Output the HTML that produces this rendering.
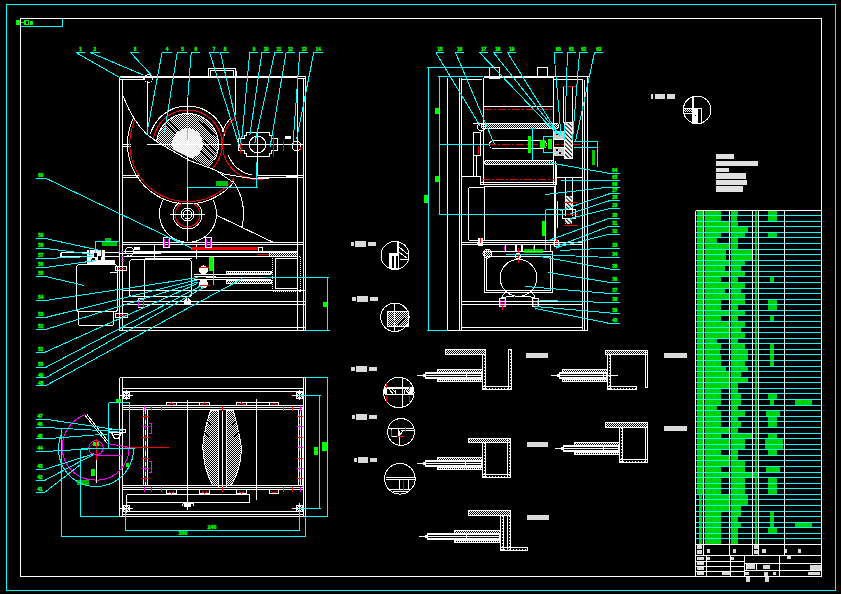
<!DOCTYPE html>
<html><head><meta charset="utf-8"><style>
html,body{margin:0;padding:0;background:#000;width:841px;height:594px;overflow:hidden}
svg{display:block}
text{font-family:"Liberation Sans",sans-serif}
</style></head><body>
<svg width="841" height="594" viewBox="0 0 841 594" shape-rendering="crispEdges">
<rect x="0" y="0" width="841" height="594" fill="#000"/>
<defs>
<pattern id="hat" width="3" height="3" patternUnits="userSpaceOnUse" patternTransform="rotate(-45)"><rect x="0" y="0" width="1.6" height="3" fill="#fff"/></pattern>
<pattern id="dots" width="2" height="2" patternUnits="userSpaceOnUse"><rect x="0" y="0" width="1" height="1" fill="#fff"/><rect x="1" y="1" width="1" height="1" fill="#fff"/></pattern>
<pattern id="chk" width="2" height="2" patternUnits="userSpaceOnUse"><rect x="0" y="0" width="1" height="1" fill="#fff"/><rect x="1" y="1" width="1" height="1" fill="#fff"/></pattern>
</defs>
<rect x="6.5" y="4.5" width="829" height="586" stroke="#00ffff" stroke-width="1" fill="none"/>
<rect x="20.5" y="18.5" width="801" height="558" stroke="#ffffff" stroke-width="1" fill="none"/>
<line x1="62.5" y1="18.5" x2="62.5" y2="26.5" stroke="#00ffff" stroke-width="1"/>
<line x1="20.5" y1="26.5" x2="62.5" y2="26.5" stroke="#00ffff" stroke-width="1"/>
<rect x="16" y="20" width="4" height="5" fill="#00ff00"/>
<rect x="21" y="22" width="3" height="1" fill="#00ff00"/>
<rect x="24" y="20" width="5" height="5" fill="#00ff00"/>
<rect x="30" y="21" width="3" height="4" fill="#00ff00"/>
<rect x="26" y="21" width="2" height="3" fill="#000"/>
<line x1="119.5" y1="76.5" x2="305.5" y2="76.5" stroke="#ffffff" stroke-width="1"/>
<line x1="119.5" y1="77.5" x2="297.5" y2="77.5" stroke="#ffffff" stroke-width="1"/>
<line x1="119.5" y1="79.5" x2="143.5" y2="79.5" stroke="#ffffff" stroke-width="1"/>
<line x1="143.5" y1="76.5" x2="143.5" y2="79.5" stroke="#ffffff" stroke-width="1"/>
<line x1="119.5" y1="76.5" x2="119.5" y2="330.5" stroke="#ffffff" stroke-width="1"/>
<line x1="122.5" y1="79.5" x2="122.5" y2="330.5" stroke="#ffffff" stroke-width="1"/>
<line x1="147.5" y1="80.5" x2="147.5" y2="133.5" stroke="#ffffff" stroke-width="1"/>
<line x1="297.5" y1="76.5" x2="297.5" y2="330.5" stroke="#ffffff" stroke-width="1"/>
<line x1="303.5" y1="78.5" x2="303.5" y2="330.5" stroke="#ffffff" stroke-width="1"/>
<line x1="305.5" y1="76.5" x2="305.5" y2="330.5" stroke="#ffffff" stroke-width="1"/>
<line x1="297.5" y1="78.5" x2="305.5" y2="78.5" stroke="#ffffff" stroke-width="1"/>
<line x1="119.5" y1="327.5" x2="305.5" y2="327.5" stroke="#ffffff" stroke-width="1"/>
<line x1="119.5" y1="330.5" x2="305.5" y2="330.5" stroke="#ffffff" stroke-width="1"/>
<rect x="208.5" y="68.5" width="27" height="8" stroke="#ffffff" stroke-width="1" fill="none"/>
<rect x="210.5" y="70.5" width="23" height="6" stroke="#ffffff" stroke-width="1" fill="none"/>
<line x1="236.5" y1="70.5" x2="236.5" y2="76.5" stroke="#ffffff" stroke-width="1"/>
<line x1="235.5" y1="76.5" x2="235.5" y2="114.5" stroke="#ffffff" stroke-width="1"/>
<circle cx="148.5" cy="78.5" r="4" stroke="#ffffff" stroke-width="1" fill="none"/>
<line x1="122.5" y1="144.5" x2="130.5" y2="144.5" stroke="#ffffff" stroke-width="1"/>
<line x1="122.5" y1="146.5" x2="130.5" y2="146.5" stroke="#ffffff" stroke-width="1"/>
<line x1="122.5" y1="175.5" x2="138.5" y2="175.5" stroke="#ffffff" stroke-width="1"/>
<line x1="122.5" y1="177.5" x2="138.5" y2="177.5" stroke="#ffffff" stroke-width="1"/>
<clipPath id="cpd"><polygon points="140,80 240,80 240,182.72 212,168.5 156.6,141.5 140,133.4"/></clipPath>
<circle cx="187.5" cy="144.5" r="31" fill="url(#chk)" clip-path="url(#cpd)"/>
<g clip-path="url(#cpd)" stroke="#000" stroke-width="1"><clipPath id="cpd2"><circle cx="187.5" cy="144.5" r="30"/></clipPath><g clip-path="url(#cpd2)"><line x1="160" y1="125" x2="174" y2="139"/><line x1="163" y1="121" x2="177" y2="135"/><line x1="166" y1="118" x2="180" y2="132"/><line x1="170" y1="115" x2="184" y2="129"/><line x1="174" y1="113" x2="188" y2="127"/><line x1="200" y1="142" x2="214" y2="156"/><line x1="204" y1="140" x2="218" y2="154"/><line x1="208" y1="139" x2="222" y2="153"/><line x1="196" y1="146" x2="210" y2="160"/><line x1="199" y1="121" x2="213" y2="135"/><line x1="203" y1="123" x2="217" y2="137"/></g></g>
<circle cx="187.5" cy="143.5" r="15.2" fill="#fff" clip-path="url(#cpd)" opacity="0.9"/>
<polyline points="156.62,141.8 156.8,140.18 157.07,138.57 157.43,136.98 157.86,135.41 158.38,133.86 158.98,132.34 159.66,130.86 160.42,129.42 161.25,128.01 162.15,126.65 163.13,125.35 164.17,124.09 165.27,122.89 166.44,121.75 167.67,120.68 168.95,119.67 170.28,118.72 171.66,117.85 173.08,117.06 174.54,116.34 176.04,115.7 177.57,115.13 179.13,114.65 180.71,114.25 182.31,113.94 183.93,113.71 185.55,113.56 187.18,113.5 188.81,113.53 190.44,113.64 192.06,113.84 193.66,114.12 195.25,114.49 196.82,114.93 198.36,115.47 199.88,116.08 201.35,116.77 202.79,117.53 204.19,118.38 205.54,119.29 206.84,120.27 208.09,121.32 209.28,122.44 210.41,123.62 211.48,124.85 212.48,126.14 213.41,127.48 214.27,128.86 215.05,130.29 215.76,131.76 216.39,133.26 216.94,134.8 217.41,136.36 217.8,137.95 218.1,139.55 218.32,141.16 218.45,142.79 218.5,144.42 218.46,146.05 218.34,147.68 218.13,149.29 217.83,150.9 217.45,152.48 216.99,154.05 216.45,155.59 215.83,157.09 215.12,158.57 214.35,160.0" stroke="#ffffff" stroke-width="1" fill="none"/>
<polyline points="153.26,140.3 153.53,138.49 153.89,136.71 154.35,134.94 154.9,133.2 155.54,131.5 156.27,129.83 157.09,128.2 158.0,126.62 158.98,125.08 160.05,123.6 161.19,122.18 162.41,120.82 163.69,119.53 165.04,118.31 166.46,117.16 167.93,116.09 169.46,115.09 171.04,114.18 172.66,113.35 174.33,112.61 176.03,111.96 177.77,111.4 179.53,110.93 181.31,110.56 183.11,110.28 184.93,110.1 186.75,110.01 188.57,110.02 190.39,110.12 192.2,110.32 194.0,110.62 195.78,111.01 197.54,111.49 199.27,112.07 200.96,112.74 202.62,113.49 204.24,114.33 205.81,115.26 207.33,116.27 208.79,117.35 210.2,118.52 211.54,119.75 212.81,121.06 214.01,122.43 215.14,123.86 216.19,125.35 217.17,126.89 218.06,128.48 218.86,130.12 219.57,131.79 220.2,133.51 220.74,135.25 221.18,137.02 221.53,138.81 221.78,140.61 221.94,142.43 222.0,144.25 221.96,146.07 221.83,147.89 221.61,149.7 221.28,151.49 220.87,153.27 220.36,155.02 219.76,156.74 219.06,158.43 218.29,160.07 217.42,161.68 216.47,163.23 215.44,164.74 214.33,166.19 213.15,167.57 211.9,168.9" stroke="#ff0000" stroke-width="1" fill="none"/>
<polyline points="150.49,133.89 151.11,131.94 151.82,130.03 152.64,128.16 153.56,126.33 154.57,124.56 155.67,122.84 156.87,121.18 158.15,119.59 159.51,118.07 160.95,116.62 162.47,115.25 164.05,113.96 165.7,112.76 167.42,111.65 169.19,110.63 171.01,109.71 172.88,108.88 174.79,108.16 176.73,107.54 178.71,107.02 180.71,106.6 182.73,106.3 184.76,106.1 186.8,106.01 188.84,106.02 190.88,106.15 192.91,106.38 194.93,106.72 196.92,107.17 198.88,107.72 200.82,108.38 202.72,109.13 204.57,109.99 206.38,110.95 208.13,111.99 209.82,113.13 211.46,114.36 213.02,115.67 214.51,117.07 215.93,118.54 217.27,120.08 218.52,121.7 219.69,123.37 220.76,125.11 221.74,126.9 222.63,128.74 223.41,130.63 224.1,132.55 224.68,134.51 225.16,136.5" stroke="#ffffff" stroke-width="1" fill="none"/>
<line x1="146.5" y1="144.5" x2="230.5" y2="144.5" stroke="#ffffff" stroke-width="1"/>
<line x1="187.5" y1="96.5" x2="187.5" y2="240.5" stroke="#ffffff" stroke-width="1"/>
<polyline points="135.21,119.61 133.99,122.4 132.93,125.25 132.02,128.15 131.26,131.09 130.66,134.07 130.22,137.08 129.93,140.1 129.81,143.14 129.84,146.18 130.04,149.21 130.39,152.23 130.9,155.22 131.57,158.19 132.4,161.11 133.37,163.99 134.5,166.81 135.77,169.57 137.19,172.26 138.75,174.87 140.44,177.39 142.27,179.82 144.21,182.15 146.28,184.38 148.47,186.49 150.76,188.49 153.15,190.36 155.64,192.11 158.22,193.72 160.87,195.19 163.6,196.52 166.4,197.7 169.26,198.74 172.17,199.63 175.12,200.36 178.1,200.93 181.11,201.35 184.14,201.6 187.18,201.7 190.21,201.64 193.25,201.41 196.26,201.03 199.25,200.49 202.21,199.79 205.12,198.94 207.99,197.94 210.8,196.78 213.55,195.48 216.23,194.04 218.82,192.46 221.33,190.74 223.74,188.9 226.06,186.93 228.26,184.84 230.36,182.64 232.33,180.33 234.18,177.92" stroke="#ff0000" stroke-width="1" fill="none"/>
<polyline points="133.57,117.7 132.26,120.57 131.11,123.51 130.11,126.51 129.26,129.56 128.58,132.64 128.07,135.76 127.72,138.9 127.53,142.06 127.51,145.22 127.66,148.38 127.97,151.52 128.45,154.64 129.09,157.74 129.9,160.79 130.86,163.8 131.98,166.76 133.26,169.65 134.68,172.47 136.26,175.21 137.97,177.87 139.82,180.43 141.81,182.89 143.92,185.24 146.15,187.48 148.5,189.59 150.95,191.58 153.51,193.44 156.16,195.16 158.9,196.74 161.71,198.18 164.6,199.46 167.55,200.59 170.56,201.56 173.61,202.37 176.71,203.02 179.83,203.51 182.97,203.83 186.13,203.98 189.29,203.97 192.44,203.8 195.59,203.45 198.71,202.94 201.79,202.27 204.84,201.44 207.84,200.45 210.79,199.3 213.67,197.99 216.47,196.54 219.2,194.94 221.84,193.2 224.38,191.33 226.82,189.32 229.15,187.19 231.37,184.93 233.46,182.57" stroke="#ffffff" stroke-width="1" fill="none"/>
<polyline points="235.95,116.92 234.53,118.09 233.17,119.34 231.88,120.66 230.66,122.04 229.51,123.48 228.44,124.99 227.46,126.54 226.55,128.15 225.73,129.8 225.0,131.5 224.37,133.23 223.82,134.99 223.36,136.78 223.0,138.58 222.74,140.41 222.57,142.25 222.5,144.09 222.53,145.93 222.65,147.77 222.87,149.6 223.19,151.42 223.6,153.22 224.11,154.99 224.71,156.74 225.4,158.45 226.18,160.12 227.04,161.75 227.99,163.33 229.03,164.85 230.14,166.32 231.33,167.74 232.59,169.08 233.92,170.36 235.31,171.57 236.77,172.7 238.28,173.75 239.85,174.72 241.46,175.61 243.12,176.41 244.83,177.12 246.56,177.75 248.33,178.28 250.12,178.71 251.93,179.05 253.76,179.3 255.6,179.45 257.44,179.5 259.28,179.45 261.12,179.31 262.95,179.07 264.77,178.74 266.56,178.31" stroke="#ff0000" stroke-width="1" fill="none"/>
<polyline points="229.63,119.41 228.46,120.77 227.36,122.19 226.32,123.67 225.36,125.19 224.47,126.75 223.65,128.36 222.92,130.0 222.26,131.67" stroke="#ffffff" stroke-width="1" fill="none"/>
<polyline points="228.37,155.1 228.96,156.61 229.64,158.09 230.39,159.53 231.21,160.93 232.11,162.28 233.07,163.59 234.1,164.84 235.2,166.03 236.36,167.17 237.57,168.25 238.84,169.26 240.17,170.2 241.53,171.07 242.95,171.87 244.4,172.6 245.89,173.24 247.41,173.81 248.96,174.3 250.53,174.71 252.12,175.03" stroke="#ffffff" stroke-width="1" fill="none"/>
<polyline points="123.3,96.5 128.5,108.5 134.5,119.1 140.5,127.5 146.5,133.9 157.1,142.0 189.1,160.4 212.5,169.0 224.0,174.0 238.5,176.5 257.5,179.0 275.5,177.5 297.5,176.5" stroke="#ffffff" stroke-width="1" fill="none"/>
<line x1="257.5" y1="175.5" x2="303.5" y2="175.5" stroke="#ffffff" stroke-width="1"/>
<line x1="257.5" y1="177.5" x2="303.5" y2="177.5" stroke="#ffffff" stroke-width="1"/>
<line x1="187.5" y1="160.5" x2="187.5" y2="187.5" stroke="#00ffff" stroke-width="1"/>
<line x1="187.5" y1="187.5" x2="257.5" y2="187.5" stroke="#00ffff" stroke-width="1"/>
<line x1="256.5" y1="161.5" x2="256.5" y2="187.5" stroke="#00ffff" stroke-width="1"/>
<rect x="216" y="181" width="12" height="5" fill="#0f0" opacity="0.75"/>
<polygon points="246.0,132.5 269.5,132.5 269.5,135.5 271.0,135.5 271.0,138.5 277.5,138.5 277.5,150.5 271.0,150.5 271.0,153.5 269.5,153.5 269.5,156.0 246.0,156.0 246.0,153.5 244.5,153.5 244.5,150.5 238.5,150.5 238.5,138.5 244.5,138.5 244.5,135.5 246.0,135.5" stroke="#ffffff" stroke-width="1" fill="none"/>
<circle cx="257.5" cy="144.5" r="8.3" stroke="#ffffff" stroke-width="1" fill="none"/>
<line x1="238.5" y1="144.5" x2="303.5" y2="144.5" stroke="#ffffff" stroke-width="1"/>
<line x1="257.5" y1="128.5" x2="257.5" y2="175.5" stroke="#ffffff" stroke-width="1"/>
<circle cx="296.5" cy="146.0" r="4.5" stroke="#ffffff" stroke-width="1" fill="none"/>
<rect x="285" y="136" width="6" height="3" fill="#ffffff"/>
<line x1="240.5" y1="138.5" x2="240.5" y2="152.5" stroke="#ff0000" stroke-width="1"/>
<line x1="273.5" y1="133.5" x2="273.5" y2="156.5" stroke="#ff0000" stroke-width="1"/>
<line x1="283.5" y1="140.5" x2="283.5" y2="150.5" stroke="#ff0000" stroke-width="1"/>
<line x1="300.5" y1="146.5" x2="300.5" y2="149.5" stroke="#ff0000" stroke-width="1"/>
<polyline points="212.68,199.55 213.4,200.87 214.05,202.23 214.62,203.62 215.12,205.04 215.55,206.48 215.89,207.95 216.16,209.43 216.35,210.92 216.47,212.42 216.5,213.93 216.45,215.43 216.33,216.93 216.12,218.42 215.84,219.9 215.48,221.36 215.04,222.8 214.53,224.21 213.94,225.6 213.28,226.95 212.55,228.27 211.76,229.54 210.89,230.78 209.97,231.96 208.98,233.09 207.93,234.17 206.83,235.2 205.67,236.16 204.47,237.06 203.21,237.9 201.92,238.67 200.59,239.37 199.22,240.0 197.82,240.55 196.4,241.03 194.95,241.44 193.48,241.77 192.0,242.02 190.5,242.19 189.0,242.28 187.5,242.3 185.99,242.23 184.5,242.08 183.01,241.86 181.53,241.56 180.08,241.18 178.64,240.72 177.24,240.19 175.86,239.58 174.51,238.91 173.21,238.16 171.94,237.35 170.72,236.47 169.55,235.52 168.43,234.52 167.36,233.46 166.36,232.34 165.41,231.17 164.52,229.96 163.7,228.69 162.95,227.39 162.27,226.05 161.66,224.67 161.12,223.27 160.66,221.84 160.27,220.38 159.96,218.91 159.73,217.42 159.58,215.93 159.51,214.42 159.51,212.92 159.6,211.42 159.77,209.92 160.01,208.44 160.33,206.97 160.73,205.52 161.21,204.09 161.76,202.69 162.38,201.32 163.07,199.98" stroke="#ffffff" stroke-width="1" fill="none"/>
<polyline points="193.32,203.55 193.89,203.87 194.44,204.22 194.97,204.6 195.48,205.01 195.96,205.44 196.43,205.9 196.87,206.38 197.28,206.88 197.67,207.4 198.03,207.95 198.36,208.51 198.66,209.09 198.93,209.68 199.16,210.29 199.37,210.91 199.54,211.53 199.68,212.17 199.78,212.81 199.86,213.46 199.89,214.11 199.9,214.76 199.87,215.41 199.8,216.06 199.7,216.7 199.57,217.34 199.4,217.97 199.21,218.59 198.97,219.2 198.71,219.8 198.42,220.38 198.09,220.94 197.74,221.49 197.36,222.02 196.95,222.53 196.52,223.01 196.06,223.47 195.58,223.91 195.07,224.32 194.54,224.71 194.0,225.06 193.43,225.39 192.85,225.68 192.26,225.95 191.65,226.18 191.03,226.39 190.4,226.56 189.77,226.69 189.12,226.79 188.48,226.86 187.83,226.9 187.17,226.9 186.52,226.86 185.88,226.79 185.23,226.69 184.6,226.56 183.97,226.39 183.35,226.18 182.74,225.95 182.15,225.68 181.57,225.39 181.0,225.06 180.46,224.71 179.93,224.32 179.42,223.91 178.94,223.47 178.48,223.01 178.05,222.53 177.64,222.02 177.26,221.49 176.91,220.94 176.58,220.38 176.29,219.8 176.03,219.2 175.79,218.59 175.6,217.97 175.43,217.34 175.3,216.7 175.2,216.06 175.13,215.41 175.1,214.76 175.11,214.11 175.14,213.46 175.22,212.81 175.32,212.17 175.46,211.53 175.63,210.91 175.84,210.29 176.07,209.68 176.34,209.09 176.64,208.51 176.97,207.95 177.33,207.4 177.72,206.88 178.13,206.38 178.57,205.9 179.04,205.44 179.52,205.01 180.03,204.6 180.56,204.22 181.11,203.87 181.68,203.55" stroke="#ff0000" stroke-width="1" fill="none"/>
<polyline points="195.82,202.62 196.43,203.08 197.02,203.56 197.58,204.08 198.12,204.63 198.62,205.2 199.1,205.8 199.54,206.42 199.95,207.07 200.32,207.73 200.66,208.42 200.97,209.12 201.23,209.84 201.46,210.57 201.64,211.31 201.79,212.06 201.9,212.82 201.97,213.58 202.0,214.34 201.99,215.11 201.94,215.87 201.84,216.63 201.71,217.38 201.54,218.13 201.33,218.86 201.08,219.58 200.79,220.29 200.47,220.98 200.11,221.66 199.71,222.31 199.29,222.95 198.82,223.56 198.33,224.14 197.81,224.7 197.26,225.23 196.68,225.73 196.07,226.19 195.45,226.63 194.8,227.03 194.13,227.4 193.44,227.73 192.73,228.02 192.01,228.28 191.28,228.5 190.54,228.68 189.78,228.82 189.03,228.92 188.26,228.98 187.5,229.0 186.74,228.98 185.97,228.92 185.22,228.82 184.46,228.68 183.72,228.5 182.99,228.28 182.27,228.02 181.56,227.73 180.87,227.4 180.2,227.03 179.55,226.63 178.93,226.19 178.32,225.73 177.74,225.23 177.19,224.7 176.67,224.14 176.18,223.56 175.71,222.95 175.29,222.31 174.89,221.66 174.53,220.98 174.21,220.29 173.92,219.58 173.67,218.86 173.46,218.13 173.29,217.38 173.16,216.63 173.06,215.87 173.01,215.11 173.0,214.34 173.03,213.58 173.1,212.82 173.21,212.06 173.36,211.31 173.54,210.57 173.77,209.84 174.03,209.12 174.34,208.42 174.68,207.73 175.05,207.07 175.46,206.42 175.9,205.8 176.38,205.2 176.88,204.63 177.42,204.08 177.98,203.56 178.57,203.08 179.18,202.62" stroke="#ffffff" stroke-width="1" fill="none"/>
<circle cx="187.5" cy="214.5" r="6.5" stroke="#ffffff" stroke-width="1" fill="none"/>
<circle cx="187.5" cy="214.5" r="4.5" stroke="#ffffff" stroke-width="1" fill="none"/>
<line x1="169.5" y1="214.5" x2="204.5" y2="214.5" stroke="#ffffff" stroke-width="1"/>
<line x1="187.5" y1="205.5" x2="187.5" y2="231.5" stroke="#ffffff" stroke-width="1"/>
<line x1="217.1" y1="215.5" x2="272.5" y2="242.0" stroke="#ffffff" stroke-width="1"/>
<polyline points="232.9,181.18 234.61,183.67 236.19,186.26 237.61,188.93 238.9,191.67 240.03,194.48 241.0,197.34 241.82,200.26 242.48,203.21 242.98,206.2 243.31,209.2 243.48,212.23 243.48,215.25 243.32,218.28 242.99,221.28 242.5,224.27 241.85,227.23" stroke="#ffffff" stroke-width="1" fill="none"/>
<polyline points="216.5,170.5 224.5,176.5 232.5,181.9" stroke="#ffffff" stroke-width="1" fill="none"/>
<line x1="122.5" y1="242.5" x2="303.5" y2="242.5" stroke="#ffffff" stroke-width="1"/>
<line x1="122.5" y1="244.5" x2="303.5" y2="244.5" stroke="#ffffff" stroke-width="1"/>
<line x1="122.5" y1="251.5" x2="297.5" y2="251.5" stroke="#ffffff" stroke-width="1"/>
<line x1="133.5" y1="252.5" x2="269.5" y2="252.5" stroke="#ffffff" stroke-width="1"/>
<line x1="122.5" y1="256.5" x2="297.5" y2="256.5" stroke="#ffffff" stroke-width="1"/>
<line x1="154.5" y1="244.5" x2="154.5" y2="257.5" stroke="#ffffff" stroke-width="1"/>
<line x1="196.5" y1="244.5" x2="196.5" y2="258.5" stroke="#ffffff" stroke-width="1"/>
<rect x="191" y="247" width="67" height="3" fill="#ff0000"/>
<rect x="258.5" y="247.5" width="4" height="4" stroke="#ffffff" stroke-width="1" fill="none"/>
<line x1="256.5" y1="254.5" x2="264.5" y2="254.5" stroke="#ff0000" stroke-width="1"/>
<line x1="265.5" y1="254.5" x2="269.5" y2="254.5" stroke="#ff0000" stroke-width="1"/>
<rect x="163.5" y="237.5" width="6" height="10" stroke="#ffffff" stroke-width="1" fill="none"/>
<line x1="164.5" y1="238.5" x2="164.5" y2="246.5" stroke="#ff00ff" stroke-width="1"/>
<line x1="168.5" y1="238.5" x2="168.5" y2="246.5" stroke="#ff00ff" stroke-width="1"/>
<rect x="205.5" y="237.5" width="6" height="10" stroke="#ffffff" stroke-width="1" fill="none"/>
<line x1="206.5" y1="238.5" x2="206.5" y2="246.5" stroke="#ff00ff" stroke-width="1"/>
<line x1="210.5" y1="238.5" x2="210.5" y2="246.5" stroke="#ff00ff" stroke-width="1"/>
<rect x="269.5" y="252.5" width="28" height="4" stroke="#ffffff" stroke-width="1" fill="none"/>
<rect x="270" y="253" width="27" height="3" fill="url(#chk)"/>
<rect x="272.5" y="256.5" width="28" height="35" stroke="#ffffff" stroke-width="1" fill="none" stroke-dasharray="1,1"/>
<rect x="275.5" y="258.5" width="22" height="30" stroke="#ffffff" stroke-width="1" fill="none"/>
<rect x="226.5" y="271.5" width="45" height="2" stroke="#ffffff" stroke-width="1" fill="none"/>
<rect x="227" y="272" width="44" height="1" fill="url(#chk)"/>
<rect x="226.5" y="280.5" width="45" height="3" stroke="#ffffff" stroke-width="1" fill="none"/>
<rect x="227" y="281" width="44" height="2" fill="url(#chk)"/>
<line x1="205.5" y1="277.5" x2="270.5" y2="277.5" stroke="#ffffff" stroke-width="1"/>
<rect x="129.5" y="259.5" width="62" height="37" rx="3" stroke="#fff" fill="none"/>
<line x1="144.5" y1="258.5" x2="191.5" y2="258.5" stroke="#ffffff" stroke-width="1"/>
<line x1="144.5" y1="258.5" x2="144.5" y2="297.5" stroke="#ffffff" stroke-width="1"/>
<line x1="122.5" y1="290.5" x2="305.5" y2="290.5" stroke="#ffffff" stroke-width="1"/>
<line x1="122.5" y1="301.5" x2="305.5" y2="301.5" stroke="#ffffff" stroke-width="1"/>
<line x1="122.5" y1="304.5" x2="305.5" y2="304.5" stroke="#ffffff" stroke-width="1"/>
<circle cx="203.5" cy="269.9" r="4" stroke="#ffffff" stroke-width="1" fill="#fff"/>
<circle cx="203.5" cy="283.8" r="4" stroke="#ffffff" stroke-width="1" fill="#fff"/>
<line x1="193.5" y1="274.5" x2="270.5" y2="274.5" stroke="#ffffff" stroke-width="1"/>
<line x1="193.5" y1="276.5" x2="215.5" y2="276.5" stroke="#ffffff" stroke-width="1"/>
<line x1="193.5" y1="279.5" x2="270.5" y2="279.5" stroke="#ffffff" stroke-width="1"/>
<line x1="199.5" y1="267.5" x2="209.5" y2="267.5" stroke="#ff0000" stroke-width="1"/>
<line x1="199.5" y1="285.5" x2="209.5" y2="285.5" stroke="#ff0000" stroke-width="1"/>
<rect x="209" y="257" width="5" height="14" fill="#00ff00"/>
<line x1="213.5" y1="256.5" x2="213.5" y2="284.5" stroke="#00ffff" stroke-width="1"/>
<rect x="138.5" y="298.5" width="5" height="9" stroke="#ffffff" stroke-width="1" fill="none"/>
<line x1="138.5" y1="299.5" x2="138.5" y2="306.5" stroke="#ff00ff" stroke-width="1"/>
<line x1="143.5" y1="299.5" x2="143.5" y2="306.5" stroke="#ff00ff" stroke-width="1"/>
<circle cx="187.5" cy="301.5" r="3" stroke="#ffffff" stroke-width="1" fill="#fff"/>
<line x1="187.5" y1="297.5" x2="187.5" y2="300.5" stroke="#ff0000" stroke-width="1"/>
<line x1="265.5" y1="277.5" x2="328.5" y2="277.5" stroke="#00ffff" stroke-width="1"/>
<line x1="327.5" y1="277.5" x2="327.5" y2="330.5" stroke="#00ffff" stroke-width="1"/>
<line x1="305.5" y1="330.5" x2="329.5" y2="330.5" stroke="#00ffff" stroke-width="1"/>
<rect x="323" y="302" width="4" height="5" fill="#00ff00"/>
<rect x="76.5" y="264.5" width="41" height="47" rx="3" stroke="#fff" fill="none"/>
<rect x="78.5" y="311.5" width="35" height="14" rx="2" stroke="#fff" fill="none"/>
<line x1="60.5" y1="252.5" x2="119.5" y2="252.5" stroke="#ffffff" stroke-width="1"/>
<line x1="60.5" y1="256.5" x2="119.5" y2="256.5" stroke="#ffffff" stroke-width="1"/>
<line x1="60.5" y1="252.5" x2="60.5" y2="256.5" stroke="#ffffff" stroke-width="1"/>
<line x1="61.5" y1="252.5" x2="61.5" y2="256.5" stroke="#ffffff" stroke-width="1"/>
<rect x="87" y="250" width="18" height="12" fill="#ffffff"/>
<rect x="87" y="260" width="28" height="4" fill="#ffffff"/>
<rect x="94" y="253" width="3" height="4" fill="#000"/>
<rect x="98" y="256" width="3" height="4" fill="#000"/>
<rect x="92" y="258" width="3" height="2" fill="#000"/>
<line x1="89.5" y1="249.5" x2="89.5" y2="254.5" stroke="#ff0000" stroke-width="1"/>
<line x1="101.5" y1="249.5" x2="101.5" y2="256.5" stroke="#ff0000" stroke-width="1"/>
<line x1="91.5" y1="258.5" x2="91.5" y2="260.5" stroke="#ff0000" stroke-width="1"/>
<line x1="95.5" y1="240.5" x2="95.5" y2="252.5" stroke="#00ffff" stroke-width="1"/>
<line x1="95.5" y1="241.5" x2="119.5" y2="241.5" stroke="#00ffff" stroke-width="1"/>
<line x1="119.5" y1="240.5" x2="119.5" y2="252.5" stroke="#00ffff" stroke-width="1"/>
<g fill="#0f0" opacity="0.75"><rect x="105" y="238" width="6" height="3"/><rect x="102" y="242" width="15" height="4"/></g>
<line x1="109.5" y1="272.5" x2="117.5" y2="272.5" stroke="#ffffff" stroke-width="1"/>
<line x1="119.5" y1="253.5" x2="160.5" y2="253.5" stroke="#ffffff" stroke-width="1"/>
<circle cx="129.5" cy="251.5" r="4.5" stroke="#ffffff" stroke-width="1" fill="none"/>
<rect x="134" y="247" width="6" height="3" fill="#ffffff"/>
<line x1="120.5" y1="251.5" x2="123.5" y2="251.5" stroke="#ff00ff" stroke-width="1"/>
<line x1="120.5" y1="256.5" x2="123.5" y2="256.5" stroke="#ff00ff" stroke-width="1"/>
<line x1="120.5" y1="259.5" x2="123.5" y2="259.5" stroke="#ff00ff" stroke-width="1"/>
<line x1="120.5" y1="261.5" x2="123.5" y2="261.5" stroke="#ff00ff" stroke-width="1"/>
<rect x="115.5" y="266.5" width="11" height="4" stroke="#ffffff" stroke-width="1" fill="none"/>
<line x1="117.5" y1="268.5" x2="124.5" y2="268.5" stroke="#ff0000" stroke-width="1"/>
<rect x="115.5" y="313.5" width="12" height="4" stroke="#ffffff" stroke-width="1" fill="none"/>
<line x1="117.5" y1="315.5" x2="126.5" y2="315.5" stroke="#ff0000" stroke-width="1"/>
<line x1="75.8" y1="52.5" x2="85.1" y2="52.5" stroke="#00ffff" stroke-width="1"/>
<text transform="translate(80.45,51.3) scale(0.8,1)" fill="#00ff00" stroke="#00ff00" stroke-width="0.4" font-size="5.8" font-weight="bold" text-anchor="middle" letter-spacing="-0.2">1</text>
<line x1="75.8" y1="52.5" x2="120.5" y2="78.0" stroke="#00ffff" stroke-width="1"/>
<line x1="90.1" y1="52.5" x2="99.5" y2="52.5" stroke="#00ffff" stroke-width="1"/>
<text transform="translate(94.8,51.3) scale(0.8,1)" fill="#00ff00" stroke="#00ff00" stroke-width="0.4" font-size="5.8" font-weight="bold" text-anchor="middle" letter-spacing="-0.2">2</text>
<line x1="90.1" y1="52.5" x2="143.2" y2="75.0" stroke="#00ffff" stroke-width="1"/>
<line x1="130.5" y1="52.5" x2="139.4" y2="52.5" stroke="#00ffff" stroke-width="1"/>
<text transform="translate(134.95,51.3) scale(0.8,1)" fill="#00ff00" stroke="#00ff00" stroke-width="0.4" font-size="5.8" font-weight="bold" text-anchor="middle" letter-spacing="-0.2">3</text>
<line x1="130.5" y1="52.5" x2="152.0" y2="75.8" stroke="#00ffff" stroke-width="1"/>
<line x1="162.1" y1="52.5" x2="171.7" y2="52.5" stroke="#00ffff" stroke-width="1"/>
<text transform="translate(166.9,51.3) scale(0.8,1)" fill="#00ff00" stroke="#00ff00" stroke-width="0.4" font-size="5.8" font-weight="bold" text-anchor="middle" letter-spacing="-0.2">4</text>
<line x1="162.1" y1="52.5" x2="146.5" y2="135.5" stroke="#00ffff" stroke-width="1"/>
<line x1="177.3" y1="52.5" x2="187.4" y2="52.5" stroke="#00ffff" stroke-width="1"/>
<text transform="translate(182.35,51.3) scale(0.8,1)" fill="#00ff00" stroke="#00ff00" stroke-width="0.4" font-size="5.8" font-weight="bold" text-anchor="middle" letter-spacing="-0.2">5</text>
<line x1="177.3" y1="52.5" x2="164.5" y2="131.8" stroke="#00ffff" stroke-width="1"/>
<line x1="191.2" y1="52.5" x2="200.0" y2="52.5" stroke="#00ffff" stroke-width="1"/>
<text transform="translate(195.6,51.3) scale(0.8,1)" fill="#00ff00" stroke="#00ff00" stroke-width="0.4" font-size="5.8" font-weight="bold" text-anchor="middle" letter-spacing="-0.2">6</text>
<line x1="191.2" y1="52.5" x2="187.9" y2="96.5" stroke="#00ffff" stroke-width="1"/>
<line x1="209.5" y1="52.5" x2="218.5" y2="52.5" stroke="#00ffff" stroke-width="1"/>
<text transform="translate(214.0,51.3) scale(0.8,1)" fill="#00ff00" stroke="#00ff00" stroke-width="0.4" font-size="5.8" font-weight="bold" text-anchor="middle" letter-spacing="-0.2">7</text>
<line x1="209.5" y1="52.5" x2="240.5" y2="149.5" stroke="#00ffff" stroke-width="1"/>
<line x1="220.5" y1="52.5" x2="229.3" y2="52.5" stroke="#00ffff" stroke-width="1"/>
<text transform="translate(224.9,51.3) scale(0.8,1)" fill="#00ff00" stroke="#00ff00" stroke-width="0.4" font-size="5.8" font-weight="bold" text-anchor="middle" letter-spacing="-0.2">8</text>
<line x1="220.5" y1="52.5" x2="241.5" y2="145.5" stroke="#00ffff" stroke-width="1"/>
<line x1="249.7" y1="52.5" x2="258.1" y2="52.5" stroke="#00ffff" stroke-width="1"/>
<text transform="translate(253.9,51.3) scale(0.8,1)" fill="#00ff00" stroke="#00ff00" stroke-width="0.4" font-size="5.8" font-weight="bold" text-anchor="middle" letter-spacing="-0.2">9</text>
<line x1="249.7" y1="52.5" x2="241.9" y2="137.8" stroke="#00ffff" stroke-width="1"/>
<line x1="261.9" y1="52.5" x2="270.2" y2="52.5" stroke="#00ffff" stroke-width="1"/>
<text transform="translate(266.05,51.3) scale(0.8,1)" fill="#00ff00" stroke="#00ff00" stroke-width="0.4" font-size="5.8" font-weight="bold" text-anchor="middle" letter-spacing="-0.2">10</text>
<line x1="261.9" y1="52.5" x2="249.8" y2="135.5" stroke="#00ffff" stroke-width="1"/>
<line x1="274.7" y1="52.5" x2="283.1" y2="52.5" stroke="#00ffff" stroke-width="1"/>
<text transform="translate(278.9,51.3) scale(0.8,1)" fill="#00ff00" stroke="#00ff00" stroke-width="0.4" font-size="5.8" font-weight="bold" text-anchor="middle" letter-spacing="-0.2">11</text>
<line x1="274.7" y1="52.5" x2="254.8" y2="143.1" stroke="#00ffff" stroke-width="1"/>
<line x1="286.1" y1="52.5" x2="294.5" y2="52.5" stroke="#00ffff" stroke-width="1"/>
<text transform="translate(290.3,51.3) scale(0.8,1)" fill="#00ff00" stroke="#00ff00" stroke-width="0.4" font-size="5.8" font-weight="bold" text-anchor="middle" letter-spacing="-0.2">12</text>
<line x1="286.1" y1="52.5" x2="270.0" y2="147.5" stroke="#00ffff" stroke-width="1"/>
<line x1="299.7" y1="52.5" x2="308.4" y2="52.5" stroke="#00ffff" stroke-width="1"/>
<text transform="translate(304.05,51.3) scale(0.8,1)" fill="#00ff00" stroke="#00ff00" stroke-width="0.4" font-size="5.8" font-weight="bold" text-anchor="middle" letter-spacing="-0.2">13</text>
<line x1="299.7" y1="52.5" x2="292.9" y2="145.3" stroke="#00ffff" stroke-width="1"/>
<line x1="313.8" y1="52.5" x2="322.5" y2="52.5" stroke="#00ffff" stroke-width="1"/>
<text transform="translate(318.15,51.3) scale(0.8,1)" fill="#00ff00" stroke="#00ff00" stroke-width="0.4" font-size="5.8" font-weight="bold" text-anchor="middle" letter-spacing="-0.2">14</text>
<line x1="313.8" y1="52.5" x2="296.5" y2="139.3" stroke="#00ffff" stroke-width="1"/>
<line x1="187.5" y1="113.5" x2="187.5" y2="139.5" stroke="#00ffff" stroke-width="1"/>
<line x1="36.0" y1="178.1" x2="45.5" y2="178.1" stroke="#00ffff" stroke-width="1"/>
<text transform="translate(40.75,176.9) scale(0.8,1)" fill="#00ff00" stroke="#00ff00" stroke-width="0.4" font-size="5.8" font-weight="bold" text-anchor="middle" letter-spacing="-0.2">60</text>
<line x1="45.5" y1="178.1" x2="192.2" y2="248.5" stroke="#00ffff" stroke-width="1"/>
<line x1="36.0" y1="238.5" x2="45.5" y2="238.5" stroke="#00ffff" stroke-width="1"/>
<text transform="translate(40.75,237.3) scale(0.8,1)" fill="#00ff00" stroke="#00ff00" stroke-width="0.4" font-size="5.8" font-weight="bold" text-anchor="middle" letter-spacing="-0.2">59</text>
<line x1="45.5" y1="238.5" x2="100.5" y2="250.5" stroke="#00ffff" stroke-width="1"/>
<line x1="36.0" y1="248.5" x2="45.5" y2="248.5" stroke="#00ffff" stroke-width="1"/>
<text transform="translate(40.75,247.3) scale(0.8,1)" fill="#00ff00" stroke="#00ff00" stroke-width="0.4" font-size="5.8" font-weight="bold" text-anchor="middle" letter-spacing="-0.2">58</text>
<line x1="45.5" y1="248.5" x2="93.5" y2="254.5" stroke="#00ffff" stroke-width="1"/>
<line x1="36.0" y1="258.5" x2="45.5" y2="258.5" stroke="#00ffff" stroke-width="1"/>
<text transform="translate(40.75,257.3) scale(0.8,1)" fill="#00ff00" stroke="#00ff00" stroke-width="0.4" font-size="5.8" font-weight="bold" text-anchor="middle" letter-spacing="-0.2">57</text>
<line x1="45.5" y1="258.5" x2="92.5" y2="256.5" stroke="#00ffff" stroke-width="1"/>
<line x1="36.0" y1="267.5" x2="45.5" y2="267.5" stroke="#00ffff" stroke-width="1"/>
<text transform="translate(40.75,266.3) scale(0.8,1)" fill="#00ff00" stroke="#00ff00" stroke-width="0.4" font-size="5.8" font-weight="bold" text-anchor="middle" letter-spacing="-0.2">56</text>
<line x1="45.5" y1="267.5" x2="96.5" y2="260.5" stroke="#00ffff" stroke-width="1"/>
<line x1="36.0" y1="276.5" x2="45.5" y2="276.5" stroke="#00ffff" stroke-width="1"/>
<text transform="translate(40.75,275.3) scale(0.8,1)" fill="#00ff00" stroke="#00ff00" stroke-width="0.4" font-size="5.8" font-weight="bold" text-anchor="middle" letter-spacing="-0.2">55</text>
<line x1="45.5" y1="276.5" x2="84.5" y2="285.5" stroke="#00ffff" stroke-width="1"/>
<line x1="36.0" y1="300.5" x2="45.5" y2="300.5" stroke="#00ffff" stroke-width="1"/>
<text transform="translate(40.75,299.3) scale(0.8,1)" fill="#00ff00" stroke="#00ff00" stroke-width="0.4" font-size="5.8" font-weight="bold" text-anchor="middle" letter-spacing="-0.2">54</text>
<line x1="45.5" y1="300.5" x2="198.5" y2="277.5" stroke="#00ffff" stroke-width="1"/>
<line x1="36.0" y1="317.5" x2="45.5" y2="317.5" stroke="#00ffff" stroke-width="1"/>
<text transform="translate(40.75,316.3) scale(0.8,1)" fill="#00ff00" stroke="#00ff00" stroke-width="0.4" font-size="5.8" font-weight="bold" text-anchor="middle" letter-spacing="-0.2">53</text>
<line x1="45.5" y1="317.5" x2="196.5" y2="280.0" stroke="#00ffff" stroke-width="1"/>
<line x1="36.0" y1="329.5" x2="45.5" y2="329.5" stroke="#00ffff" stroke-width="1"/>
<text transform="translate(40.75,328.3) scale(0.8,1)" fill="#00ff00" stroke="#00ff00" stroke-width="0.4" font-size="5.8" font-weight="bold" text-anchor="middle" letter-spacing="-0.2">52</text>
<line x1="45.5" y1="329.5" x2="197.5" y2="282.0" stroke="#00ffff" stroke-width="1"/>
<line x1="36.0" y1="352.0" x2="45.5" y2="352.0" stroke="#00ffff" stroke-width="1"/>
<text transform="translate(40.75,350.8) scale(0.8,1)" fill="#00ff00" stroke="#00ff00" stroke-width="0.4" font-size="5.8" font-weight="bold" text-anchor="middle" letter-spacing="-0.2">51</text>
<line x1="45.5" y1="352.0" x2="197.5" y2="283.5" stroke="#00ffff" stroke-width="1"/>
<line x1="36.0" y1="367.5" x2="45.5" y2="367.5" stroke="#00ffff" stroke-width="1"/>
<text transform="translate(40.75,366.3) scale(0.8,1)" fill="#00ff00" stroke="#00ff00" stroke-width="0.4" font-size="5.8" font-weight="bold" text-anchor="middle" letter-spacing="-0.2">50</text>
<line x1="45.5" y1="367.5" x2="200.5" y2="286.0" stroke="#00ffff" stroke-width="1"/>
<line x1="36.0" y1="377.9" x2="45.5" y2="377.9" stroke="#00ffff" stroke-width="1"/>
<text transform="translate(40.75,376.7) scale(0.8,1)" fill="#00ff00" stroke="#00ff00" stroke-width="0.4" font-size="5.8" font-weight="bold" text-anchor="middle" letter-spacing="-0.2">49</text>
<line x1="45.5" y1="377.9" x2="203.5" y2="287.5" stroke="#00ffff" stroke-width="1"/>
<line x1="36.0" y1="385.8" x2="45.5" y2="385.8" stroke="#00ffff" stroke-width="1"/>
<text transform="translate(40.75,384.6) scale(0.8,1)" fill="#00ff00" stroke="#00ff00" stroke-width="0.4" font-size="5.8" font-weight="bold" text-anchor="middle" letter-spacing="-0.2">48</text>
<line x1="45.5" y1="385.8" x2="242.5" y2="278.5" stroke="#00ffff" stroke-width="1"/>
<line x1="119.5" y1="377.5" x2="305.5" y2="377.5" stroke="#ffffff" stroke-width="1"/>
<line x1="119.5" y1="377.5" x2="119.5" y2="516.5" stroke="#ffffff" stroke-width="1"/>
<line x1="122.5" y1="377.5" x2="122.5" y2="516.5" stroke="#ffffff" stroke-width="1"/>
<line x1="303.5" y1="377.5" x2="303.5" y2="516.5" stroke="#ffffff" stroke-width="1"/>
<line x1="305.5" y1="377.5" x2="305.5" y2="516.5" stroke="#ffffff" stroke-width="1"/>
<line x1="122.5" y1="388.5" x2="303.5" y2="388.5" stroke="#ffffff" stroke-width="1"/>
<line x1="122.5" y1="391.5" x2="303.5" y2="391.5" stroke="#ffffff" stroke-width="1"/>
<line x1="122.5" y1="405.5" x2="303.5" y2="405.5" stroke="#ffffff" stroke-width="1"/>
<line x1="122.5" y1="407.5" x2="303.5" y2="407.5" stroke="#ffffff" stroke-width="1"/>
<line x1="122.5" y1="409.5" x2="303.5" y2="409.5" stroke="#ffffff" stroke-width="1"/>
<line x1="122.5" y1="485.5" x2="303.5" y2="485.5" stroke="#ffffff" stroke-width="1"/>
<line x1="122.5" y1="487.5" x2="303.5" y2="487.5" stroke="#ffffff" stroke-width="1"/>
<line x1="122.5" y1="489.5" x2="303.5" y2="489.5" stroke="#ffffff" stroke-width="1"/>
<line x1="126.5" y1="494.5" x2="249.5" y2="494.5" stroke="#ffffff" stroke-width="1"/>
<line x1="126.5" y1="494.5" x2="126.5" y2="502.5" stroke="#ffffff" stroke-width="1"/>
<line x1="126.5" y1="502.5" x2="249.5" y2="502.5" stroke="#ffffff" stroke-width="1"/>
<line x1="249.5" y1="494.5" x2="249.5" y2="502.5" stroke="#ffffff" stroke-width="1"/>
<line x1="122.5" y1="511.5" x2="303.5" y2="511.5" stroke="#ffffff" stroke-width="1"/>
<line x1="122.5" y1="514.5" x2="303.5" y2="514.5" stroke="#ffffff" stroke-width="1"/>
<line x1="119.5" y1="516.5" x2="305.5" y2="516.5" stroke="#ffffff" stroke-width="1"/>
<rect x="123.5" y="392.5" width="6" height="6" stroke="#ffffff" stroke-width="1" fill="none"/>
<circle cx="126.5" cy="395.5" r="2" stroke="#ffffff" stroke-width="1" fill="none"/>
<line x1="118.5" y1="395.5" x2="132.5" y2="395.5" stroke="#ffffff" stroke-width="1"/>
<line x1="126.5" y1="389.5" x2="126.5" y2="399.5" stroke="#ffffff" stroke-width="1"/>
<rect x="296.5" y="392.5" width="6" height="6" stroke="#ffffff" stroke-width="1" fill="none"/>
<circle cx="299.5" cy="395.5" r="2" stroke="#ffffff" stroke-width="1" fill="none"/>
<line x1="291.5" y1="395.5" x2="305.5" y2="395.5" stroke="#ffffff" stroke-width="1"/>
<line x1="299.5" y1="389.5" x2="299.5" y2="399.5" stroke="#ffffff" stroke-width="1"/>
<rect x="123.5" y="505.5" width="6" height="6" stroke="#ffffff" stroke-width="1" fill="none"/>
<circle cx="126.5" cy="508.5" r="2" stroke="#ffffff" stroke-width="1" fill="none"/>
<line x1="118.5" y1="508.5" x2="132.5" y2="508.5" stroke="#ffffff" stroke-width="1"/>
<line x1="126.5" y1="502.5" x2="126.5" y2="512.5" stroke="#ffffff" stroke-width="1"/>
<rect x="296.5" y="505.5" width="6" height="6" stroke="#ffffff" stroke-width="1" fill="none"/>
<circle cx="299.5" cy="508.5" r="2" stroke="#ffffff" stroke-width="1" fill="none"/>
<line x1="291.5" y1="508.5" x2="305.5" y2="508.5" stroke="#ffffff" stroke-width="1"/>
<line x1="299.5" y1="502.5" x2="299.5" y2="512.5" stroke="#ffffff" stroke-width="1"/>
<rect x="166.5" y="402.5" width="10" height="3" stroke="#ffffff" stroke-width="1" fill="none"/>
<polyline points="168.5,405.0 171.5,403.0 174.5,405.0" stroke="#ff0000" stroke-width="1" fill="none"/>
<rect x="166.5" y="489.5" width="10" height="4" stroke="#ffffff" stroke-width="1" fill="none"/>
<polyline points="174.0,490.5 174.0,490.63 173.99,490.76 173.97,490.89 173.95,491.02 173.91,491.15 173.88,491.27 173.83,491.4 173.78,491.52 173.73,491.63 173.67,491.75 173.6,491.86 173.52,491.97 173.44,492.07 173.36,492.17 173.27,492.27 173.17,492.36 173.07,492.44 172.97,492.52 172.86,492.6 172.75,492.67 172.63,492.73 172.52,492.78 172.4,492.83 172.27,492.88 172.15,492.91 172.02,492.95 171.89,492.97 171.76,492.99 171.63,493.0 171.5,493.0 171.37,493.0 171.24,492.99 171.11,492.97 170.98,492.95 170.85,492.91 170.73,492.88 170.6,492.83 170.48,492.78 170.37,492.73 170.25,492.67 170.14,492.6 170.03,492.52 169.93,492.44 169.83,492.36 169.73,492.27 169.64,492.17 169.56,492.07 169.48,491.97 169.4,491.86 169.33,491.75 169.27,491.63 169.22,491.52 169.17,491.4 169.12,491.27 169.09,491.15 169.05,491.02 169.03,490.89 169.01,490.76 169.0,490.63 169.0,490.5" stroke="#ff0000" stroke-width="1" fill="none"/>
<rect x="199.5" y="402.5" width="10" height="3" stroke="#ffffff" stroke-width="1" fill="none"/>
<polyline points="201.5,405.0 204.5,403.0 207.5,405.0" stroke="#ff0000" stroke-width="1" fill="none"/>
<rect x="199.5" y="489.5" width="10" height="4" stroke="#ffffff" stroke-width="1" fill="none"/>
<polyline points="207.0,490.5 207.0,490.63 206.99,490.76 206.97,490.89 206.95,491.02 206.91,491.15 206.88,491.27 206.83,491.4 206.78,491.52 206.73,491.63 206.67,491.75 206.6,491.86 206.52,491.97 206.44,492.07 206.36,492.17 206.27,492.27 206.17,492.36 206.07,492.44 205.97,492.52 205.86,492.6 205.75,492.67 205.63,492.73 205.52,492.78 205.4,492.83 205.27,492.88 205.15,492.91 205.02,492.95 204.89,492.97 204.76,492.99 204.63,493.0 204.5,493.0 204.37,493.0 204.24,492.99 204.11,492.97 203.98,492.95 203.85,492.91 203.73,492.88 203.6,492.83 203.48,492.78 203.37,492.73 203.25,492.67 203.14,492.6 203.03,492.52 202.93,492.44 202.83,492.36 202.73,492.27 202.64,492.17 202.56,492.07 202.48,491.97 202.4,491.86 202.33,491.75 202.27,491.63 202.22,491.52 202.17,491.4 202.12,491.27 202.09,491.15 202.05,491.02 202.03,490.89 202.01,490.76 202.0,490.63 202.0,490.5" stroke="#ff0000" stroke-width="1" fill="none"/>
<rect x="236.5" y="402.5" width="10" height="3" stroke="#ffffff" stroke-width="1" fill="none"/>
<polyline points="238.5,405.0 241.5,403.0 244.5,405.0" stroke="#ff0000" stroke-width="1" fill="none"/>
<rect x="236.5" y="489.5" width="10" height="4" stroke="#ffffff" stroke-width="1" fill="none"/>
<polyline points="244.0,490.5 244.0,490.63 243.99,490.76 243.97,490.89 243.95,491.02 243.91,491.15 243.88,491.27 243.83,491.4 243.78,491.52 243.73,491.63 243.67,491.75 243.6,491.86 243.52,491.97 243.44,492.07 243.36,492.17 243.27,492.27 243.17,492.36 243.07,492.44 242.97,492.52 242.86,492.6 242.75,492.67 242.63,492.73 242.52,492.78 242.4,492.83 242.27,492.88 242.15,492.91 242.02,492.95 241.89,492.97 241.76,492.99 241.63,493.0 241.5,493.0 241.37,493.0 241.24,492.99 241.11,492.97 240.98,492.95 240.85,492.91 240.73,492.88 240.6,492.83 240.48,492.78 240.37,492.73 240.25,492.67 240.14,492.6 240.03,492.52 239.93,492.44 239.83,492.36 239.73,492.27 239.64,492.17 239.56,492.07 239.48,491.97 239.4,491.86 239.33,491.75 239.27,491.63 239.22,491.52 239.17,491.4 239.12,491.27 239.09,491.15 239.05,491.02 239.03,490.89 239.01,490.76 239.0,490.63 239.0,490.5" stroke="#ff0000" stroke-width="1" fill="none"/>
<rect x="269.5" y="402.5" width="9" height="3" stroke="#ffffff" stroke-width="1" fill="none"/>
<polyline points="271.5,405.0 274.0,403.0 276.5,405.0" stroke="#ff0000" stroke-width="1" fill="none"/>
<rect x="269.5" y="489.5" width="9" height="4" stroke="#ffffff" stroke-width="1" fill="none"/>
<polyline points="276.5,490.5 276.5,490.63 276.49,490.76 276.47,490.89 276.45,491.02 276.41,491.15 276.38,491.27 276.33,491.4 276.28,491.52 276.23,491.63 276.17,491.75 276.1,491.86 276.02,491.97 275.94,492.07 275.86,492.17 275.77,492.27 275.67,492.36 275.57,492.44 275.47,492.52 275.36,492.6 275.25,492.67 275.13,492.73 275.02,492.78 274.9,492.83 274.77,492.88 274.65,492.91 274.52,492.95 274.39,492.97 274.26,492.99 274.13,493.0 274.0,493.0 273.87,493.0 273.74,492.99 273.61,492.97 273.48,492.95 273.35,492.91 273.23,492.88 273.1,492.83 272.98,492.78 272.87,492.73 272.75,492.67 272.64,492.6 272.53,492.52 272.43,492.44 272.33,492.36 272.23,492.27 272.14,492.17 272.06,492.07 271.98,491.97 271.9,491.86 271.83,491.75 271.77,491.63 271.72,491.52 271.67,491.4 271.62,491.27 271.59,491.15 271.55,491.02 271.53,490.89 271.51,490.76 271.5,490.63 271.5,490.5" stroke="#ff0000" stroke-width="1" fill="none"/>
<rect x="246.5" y="402.5" width="23" height="3" stroke="#ffffff" stroke-width="1" fill="none"/>
<rect x="176.5" y="402.5" width="23" height="3" stroke="#ffffff" stroke-width="1" fill="none"/>
<line x1="143.5" y1="407.5" x2="143.5" y2="485.5" stroke="#ffffff" stroke-width="1"/>
<line x1="145.5" y1="407.5" x2="145.5" y2="485.5" stroke="#ffffff" stroke-width="1"/>
<line x1="147.5" y1="409.5" x2="147.5" y2="485.5" stroke="#ffffff" stroke-width="1"/>
<line x1="298.5" y1="409.5" x2="298.5" y2="485.5" stroke="#ffffff" stroke-width="1"/>
<line x1="300.5" y1="409.5" x2="300.5" y2="485.5" stroke="#ffffff" stroke-width="1"/>
<line x1="302.5" y1="407.5" x2="302.5" y2="485.5" stroke="#ffffff" stroke-width="1"/>
<line x1="141.5" y1="416.5" x2="148.5" y2="416.5" stroke="#ff0000" stroke-width="1"/>
<line x1="145.5" y1="413.5" x2="145.5" y2="419.5" stroke="#ff0000" stroke-width="1"/>
<line x1="296.5" y1="416.5" x2="302.5" y2="416.5" stroke="#ff0000" stroke-width="1"/>
<line x1="299.5" y1="413.5" x2="299.5" y2="419.5" stroke="#ff0000" stroke-width="1"/>
<line x1="141.5" y1="426.5" x2="148.5" y2="426.5" stroke="#ff00ff" stroke-width="1"/>
<line x1="145.5" y1="423.5" x2="145.5" y2="429.5" stroke="#ff00ff" stroke-width="1"/>
<line x1="296.5" y1="426.5" x2="302.5" y2="426.5" stroke="#ff00ff" stroke-width="1"/>
<line x1="299.5" y1="423.5" x2="299.5" y2="429.5" stroke="#ff00ff" stroke-width="1"/>
<line x1="141.5" y1="437.5" x2="148.5" y2="437.5" stroke="#ff0000" stroke-width="1"/>
<line x1="145.5" y1="434.5" x2="145.5" y2="440.5" stroke="#ff0000" stroke-width="1"/>
<line x1="296.5" y1="437.5" x2="302.5" y2="437.5" stroke="#ff0000" stroke-width="1"/>
<line x1="299.5" y1="434.5" x2="299.5" y2="440.5" stroke="#ff0000" stroke-width="1"/>
<line x1="141.5" y1="447.5" x2="148.5" y2="447.5" stroke="#ff00ff" stroke-width="1"/>
<line x1="145.5" y1="444.5" x2="145.5" y2="450.5" stroke="#ff00ff" stroke-width="1"/>
<line x1="296.5" y1="447.5" x2="302.5" y2="447.5" stroke="#ff00ff" stroke-width="1"/>
<line x1="299.5" y1="444.5" x2="299.5" y2="450.5" stroke="#ff00ff" stroke-width="1"/>
<line x1="141.5" y1="458.5" x2="148.5" y2="458.5" stroke="#ff0000" stroke-width="1"/>
<line x1="145.5" y1="455.5" x2="145.5" y2="461.5" stroke="#ff0000" stroke-width="1"/>
<line x1="296.5" y1="458.5" x2="302.5" y2="458.5" stroke="#ff0000" stroke-width="1"/>
<line x1="299.5" y1="455.5" x2="299.5" y2="461.5" stroke="#ff0000" stroke-width="1"/>
<line x1="141.5" y1="468.5" x2="148.5" y2="468.5" stroke="#ff00ff" stroke-width="1"/>
<line x1="145.5" y1="465.5" x2="145.5" y2="471.5" stroke="#ff00ff" stroke-width="1"/>
<line x1="296.5" y1="468.5" x2="302.5" y2="468.5" stroke="#ff00ff" stroke-width="1"/>
<line x1="299.5" y1="465.5" x2="299.5" y2="471.5" stroke="#ff00ff" stroke-width="1"/>
<line x1="141.5" y1="478.5" x2="148.5" y2="478.5" stroke="#ff0000" stroke-width="1"/>
<line x1="145.5" y1="475.5" x2="145.5" y2="481.5" stroke="#ff0000" stroke-width="1"/>
<line x1="296.5" y1="478.5" x2="302.5" y2="478.5" stroke="#ff0000" stroke-width="1"/>
<line x1="299.5" y1="475.5" x2="299.5" y2="481.5" stroke="#ff0000" stroke-width="1"/>
<polyline points="148.5,423.5 151.5,423.5 151.5,433.5 148.5,433.5" stroke="#ff00ff" stroke-width="1" fill="none"/>
<polyline points="148.5,461.5 151.5,461.5 151.5,472.5 148.5,472.5" stroke="#ff00ff" stroke-width="1" fill="none"/>
<line x1="144.5" y1="405.5" x2="144.5" y2="410.5" stroke="#ff00ff" stroke-width="1"/>
<line x1="144.5" y1="486.5" x2="144.5" y2="491.5" stroke="#ff00ff" stroke-width="1"/>
<line x1="151.5" y1="405.5" x2="151.5" y2="410.5" stroke="#ff0000" stroke-width="1"/>
<line x1="151.5" y1="486.5" x2="151.5" y2="491.5" stroke="#ff0000" stroke-width="1"/>
<line x1="161.5" y1="405.5" x2="161.5" y2="410.5" stroke="#ff00ff" stroke-width="1"/>
<line x1="161.5" y1="486.5" x2="161.5" y2="491.5" stroke="#ff00ff" stroke-width="1"/>
<line x1="222.5" y1="405.5" x2="222.5" y2="410.5" stroke="#ff0000" stroke-width="1"/>
<line x1="222.5" y1="486.5" x2="222.5" y2="491.5" stroke="#ff0000" stroke-width="1"/>
<line x1="283.5" y1="405.5" x2="283.5" y2="410.5" stroke="#ff00ff" stroke-width="1"/>
<line x1="283.5" y1="486.5" x2="283.5" y2="491.5" stroke="#ff00ff" stroke-width="1"/>
<line x1="292.5" y1="405.5" x2="292.5" y2="410.5" stroke="#ff0000" stroke-width="1"/>
<line x1="292.5" y1="486.5" x2="292.5" y2="491.5" stroke="#ff0000" stroke-width="1"/>
<line x1="300.5" y1="405.5" x2="300.5" y2="410.5" stroke="#ff00ff" stroke-width="1"/>
<line x1="300.5" y1="486.5" x2="300.5" y2="491.5" stroke="#ff00ff" stroke-width="1"/>
<line x1="187.5" y1="399.5" x2="187.5" y2="509.5" stroke="#ffffff" stroke-width="1"/>
<line x1="256.5" y1="398.5" x2="256.5" y2="499.5" stroke="#ffffff" stroke-width="1"/>
<line x1="182.5" y1="503.5" x2="193.5" y2="503.5" stroke="#ffffff" stroke-width="1"/>
<line x1="182.5" y1="503.5" x2="182.5" y2="505.5" stroke="#ffffff" stroke-width="1"/>
<line x1="193.5" y1="503.5" x2="193.5" y2="505.5" stroke="#ffffff" stroke-width="1"/>
<rect x="184" y="504" width="7" height="3" fill="#ffffff"/>
<path d="M218,410.5 L210.5,410.5 C206,425 202,440 203,450 C204,465 208,478 213,485.5 L218,485.5 Z" fill="url(#chk)" stroke="#fff" stroke-width="1"/>
<path d="M226,410.5 L233.5,410.5 C237,425 241,440 241.5,450 C240.5,465 236,478 231,485.5 L226,485.5 Z" fill="url(#chk)" stroke="#fff" stroke-width="1"/>
<line x1="206.5" y1="420.5" x2="211.5" y2="425.5" stroke="#000" stroke-width="1"/>
<line x1="204.5" y1="432.5" x2="209.5" y2="437.5" stroke="#000" stroke-width="1"/>
<line x1="203.5" y1="446.5" x2="208.5" y2="451.5" stroke="#000" stroke-width="1"/>
<line x1="205.5" y1="460.5" x2="210.5" y2="465.5" stroke="#000" stroke-width="1"/>
<line x1="236.5" y1="420.5" x2="231.5" y2="425.5" stroke="#000" stroke-width="1"/>
<line x1="238.5" y1="432.5" x2="233.5" y2="437.5" stroke="#000" stroke-width="1"/>
<line x1="239.5" y1="446.5" x2="234.5" y2="451.5" stroke="#000" stroke-width="1"/>
<line x1="237.5" y1="460.5" x2="232.5" y2="465.5" stroke="#000" stroke-width="1"/>
<line x1="218.5" y1="410.5" x2="218.5" y2="486.5" stroke="#ffffff" stroke-width="1"/>
<line x1="222.5" y1="410.5" x2="222.5" y2="486.5" stroke="#ffffff" stroke-width="1"/>
<line x1="226.5" y1="410.5" x2="226.5" y2="486.5" stroke="#ffffff" stroke-width="1"/>
<line x1="124.5" y1="447.5" x2="168.5" y2="447.5" stroke="#ff0000" stroke-width="1"/>
<line x1="305.5" y1="377.5" x2="327.5" y2="377.5" stroke="#00ffff" stroke-width="1"/>
<line x1="327.5" y1="377.5" x2="327.5" y2="516.5" stroke="#00ffff" stroke-width="1"/>
<line x1="299.5" y1="395.5" x2="320.5" y2="395.5" stroke="#00ffff" stroke-width="1"/>
<line x1="319.5" y1="395.5" x2="319.5" y2="508.5" stroke="#00ffff" stroke-width="1"/>
<line x1="299.5" y1="508.5" x2="320.5" y2="508.5" stroke="#00ffff" stroke-width="1"/>
<line x1="305.5" y1="516.5" x2="327.5" y2="516.5" stroke="#00ffff" stroke-width="1"/>
<line x1="299.5" y1="508.5" x2="299.5" y2="530.5" stroke="#00ffff" stroke-width="1"/>
<line x1="125.5" y1="508.5" x2="125.5" y2="530.5" stroke="#00ffff" stroke-width="1"/>
<line x1="125.5" y1="530.5" x2="299.5" y2="530.5" stroke="#00ffff" stroke-width="1"/>
<line x1="305.5" y1="516.5" x2="305.5" y2="536.5" stroke="#00ffff" stroke-width="1"/>
<line x1="60.5" y1="536.5" x2="305.5" y2="536.5" stroke="#00ffff" stroke-width="1"/>
<text x="212" y="528.5" fill="#00ff00" font-size="5.5" font-weight="bold" text-anchor="middle" stroke="#0f0" stroke-width="0.3">246</text>
<text x="183" y="534.5" fill="#00ff00" font-size="5.5" font-weight="bold" text-anchor="middle" stroke="#0f0" stroke-width="0.3">300</text>
<rect x="314" y="447" width="4" height="8" fill="#00ff00"/>
<rect x="322" y="442" width="5" height="9" fill="#00ff00"/>
<line x1="80.5" y1="516.5" x2="119.5" y2="516.5" stroke="#00ffff" stroke-width="1"/>
<rect x="116" y="399" width="5" height="3" fill="#00ff00"/>
<line x1="108.5" y1="402.5" x2="108.5" y2="402.5" stroke="#00ffff" stroke-width="1"/>
<polyline points="84.88,414.76 83.39,415.37 81.94,416.03 80.52,416.76 79.14,417.55 77.8,418.4 76.5,419.31 75.24,420.27 74.03,421.29 72.88,422.35 71.77,423.46 70.71,424.62 69.71,425.83 68.77,427.07 67.89,428.35 67.06,429.66 66.3,431.01 65.6,432.39 64.96,433.79 64.39,435.22 63.88,436.67 63.44,438.14 63.06,439.62 62.76,441.11 62.52,442.61 62.34,444.12 62.24,445.63 62.2,447.14 62.23,448.65 62.33,450.15 62.49,451.64 62.72,453.12 63.02,454.58 63.38,456.02 63.8,457.45 64.28,458.85 64.83,460.22 65.43,461.57 66.09,462.88 66.81,464.16 67.58,465.41 68.41,466.61 69.28,467.78 70.21,468.9 71.18,469.97 72.2,471.0 73.26,471.98 74.35,472.91 75.49,473.79 76.66,474.62 77.87,475.38 79.1,476.1 80.36,476.75 81.65,477.35 82.96,477.89 84.28,478.37 85.63,478.78 86.99,479.14 88.36,479.43 89.73,479.66 91.12,479.83 92.5,479.94 93.89,479.99 95.27,480.01 96.65,480.06 98.04,480.05 99.42,479.99 100.8,479.86 102.18,479.66 103.55,479.41 104.92,479.1 106.26,478.72 107.59,478.29 108.91,477.79 110.2,477.23 111.47,476.62 112.71,475.95 113.92,475.23 115.1,474.45 116.25,473.61 117.36,472.73 118.43,471.79 119.47,470.81 120.45,469.78 121.4,468.7 122.29,467.58 123.14,466.42 123.93,465.22 124.67,463.99 125.36,462.72 125.99,461.42 126.57,460.09 127.08,458.74 127.53,457.36 127.93,455.96 128.26,454.54 128.53,453.11 128.73,451.66 128.87,450.21 128.95,448.74 128.95,447.27" stroke="#ff00ff" stroke-width="1" fill="none"/>
<polyline points="62.01,433.15 61.23,434.95 60.54,436.79 59.95,438.66 59.46,440.56 59.07,442.49 58.78,444.43 58.59,446.38 58.51,448.35 58.52,450.31 58.64,452.27 58.86,454.22 59.19,456.16 59.61,458.07 60.14,459.96 60.76,461.83 61.48,463.65 62.3,465.44 63.2,467.18 64.2,468.87 65.28,470.51 66.45,472.09 67.7,473.6 69.02,475.05 70.43,476.43 71.9,477.73 73.43,478.95 75.03,480.09 76.69,481.14 78.39,482.11 80.15,482.99 81.95,483.77 83.79,484.46 85.66,485.05 87.56,485.54 89.49,485.93 91.43,486.22 93.38,486.41 95.35,486.49 97.31,486.48 99.27,486.36 101.22,486.14 103.16,485.81 105.07,485.39 106.96,484.86 108.83,484.24 110.65,483.52 112.44,482.7 114.18,481.8 115.87,480.8 117.51,479.72 119.09,478.55 120.6,477.3 122.05,475.98 123.43,474.57 124.73,473.1 125.95,471.57 127.09,469.97 128.14,468.31 129.11,466.61 129.99,464.85 130.77,463.05 131.46,461.21 132.05,459.34 132.54,457.44 132.93,455.51 133.22,453.57 133.41,451.62 133.49,449.65 133.48,447.69" stroke="#00ffff" stroke-width="1" fill="none"/>
<polyline points="85.3,415.5 107.3,443.5" stroke="#ffffff" stroke-width="1" fill="none"/>
<polyline points="87.0,414.5 109.0,442.5" stroke="#ffffff" stroke-width="1" fill="none"/>
<line x1="107.3" y1="443.5" x2="129.3" y2="447.5" stroke="#ff00ff" stroke-width="1"/>
<circle cx="96.0" cy="447.9" r="7.2" stroke="#ff00ff" stroke-width="1" fill="none"/>
<polyline points="91.3,446.19 91.4,445.94 91.51,445.7 91.63,445.47 91.77,445.24 91.92,445.02 92.07,444.8 92.24,444.6 92.42,444.4 92.62,444.22 92.82,444.05 93.02,443.88 93.24,443.73 93.47,443.59 93.7,443.46 93.94,443.34 94.18,443.24 94.43,443.15 94.69,443.08 94.95,443.01 95.21,442.96 95.47,442.93 95.73,442.91 96.0,442.9 96.27,442.91 96.53,442.93 96.79,442.96 97.05,443.01 97.31,443.08 97.57,443.15 97.82,443.24 98.06,443.34 98.3,443.46 98.53,443.59 98.76,443.73 98.98,443.88 99.18,444.05 99.38,444.22 99.58,444.4 99.76,444.6 99.93,444.8 100.08,445.02 100.23,445.24 100.37,445.47 100.49,445.7 100.6,445.94 100.7,446.19" stroke="#ff0000" stroke-width="1" fill="none"/>
<rect x="93" y="442" width="6" height="4" fill="#00ff00"/>
<line x1="96.0" y1="438.5" x2="96.0" y2="459.5" stroke="#ff0000" stroke-width="1"/>
<line x1="96.0" y1="459.5" x2="96.0" y2="482.5" stroke="#ffffff" stroke-width="1"/>
<line x1="96.0" y1="455.5" x2="121.0" y2="455.5" stroke="#ff00ff" stroke-width="1"/>
<line x1="121.0" y1="455.5" x2="121.0" y2="469.5" stroke="#ff00ff" stroke-width="1"/>
<rect x="91" y="469" width="4" height="7" fill="#00ff00"/>
<rect x="77" y="480" width="12" height="5" fill="#0f0" opacity="0.7"/>
<rect x="126" y="463" width="3" height="4" fill="#00ff00"/>
<line x1="80.5" y1="448.5" x2="134.5" y2="448.5" stroke="#00ffff" stroke-width="1"/>
<line x1="80.5" y1="448.5" x2="80.5" y2="516.5" stroke="#00ffff" stroke-width="1"/>
<line x1="108.5" y1="402.5" x2="108.5" y2="448.5" stroke="#00ffff" stroke-width="1"/>
<line x1="129.5" y1="402.5" x2="129.5" y2="448.5" stroke="#00ffff" stroke-width="1"/>
<line x1="61.0" y1="428.5" x2="61.0" y2="536.5" stroke="#00ffff" stroke-width="1"/>
<line x1="108.5" y1="402.5" x2="129.5" y2="402.5" stroke="#00ffff" stroke-width="1"/>
<rect x="109.5" y="429.5" width="16" height="3" stroke="#ffffff" stroke-width="1" fill="none"/>
<polyline points="111.5,432.5 114.5,438.5 118.5,438.5 121.5,432.5" stroke="#ffffff" stroke-width="1" fill="none"/>
<line x1="113.5" y1="434.5" x2="119.5" y2="434.5" stroke="#ffffff" stroke-width="1"/>
<line x1="35.5" y1="419.1" x2="44.5" y2="419.1" stroke="#00ffff" stroke-width="1"/>
<text transform="translate(40.0,417.9) scale(0.8,1)" fill="#00ff00" stroke="#00ff00" stroke-width="0.4" font-size="5.8" font-weight="bold" text-anchor="middle" letter-spacing="-0.2">47</text>
<line x1="44.5" y1="419.1" x2="122.5" y2="430.5" stroke="#00ffff" stroke-width="1"/>
<line x1="35.5" y1="427.4" x2="44.5" y2="427.4" stroke="#00ffff" stroke-width="1"/>
<text transform="translate(40.0,426.2) scale(0.8,1)" fill="#00ff00" stroke="#00ff00" stroke-width="0.4" font-size="5.8" font-weight="bold" text-anchor="middle" letter-spacing="-0.2">46</text>
<line x1="44.5" y1="427.4" x2="118.5" y2="431.5" stroke="#00ffff" stroke-width="1"/>
<line x1="35.5" y1="438.9" x2="44.5" y2="438.9" stroke="#00ffff" stroke-width="1"/>
<text transform="translate(40.0,437.7) scale(0.8,1)" fill="#00ff00" stroke="#00ff00" stroke-width="0.4" font-size="5.8" font-weight="bold" text-anchor="middle" letter-spacing="-0.2">45</text>
<line x1="44.5" y1="438.9" x2="107.5" y2="434.0" stroke="#00ffff" stroke-width="1"/>
<line x1="35.5" y1="451.5" x2="44.5" y2="451.5" stroke="#00ffff" stroke-width="1"/>
<text transform="translate(40.0,450.3) scale(0.8,1)" fill="#00ff00" stroke="#00ff00" stroke-width="0.4" font-size="5.8" font-weight="bold" text-anchor="middle" letter-spacing="-0.2">44</text>
<line x1="44.5" y1="451.5" x2="97.5" y2="448.5" stroke="#00ffff" stroke-width="1"/>
<line x1="35.5" y1="469.5" x2="44.5" y2="469.5" stroke="#00ffff" stroke-width="1"/>
<text transform="translate(40.0,468.3) scale(0.8,1)" fill="#00ff00" stroke="#00ff00" stroke-width="0.4" font-size="5.8" font-weight="bold" text-anchor="middle" letter-spacing="-0.2">43</text>
<line x1="44.5" y1="469.5" x2="94.5" y2="453.5" stroke="#00ffff" stroke-width="1"/>
<line x1="35.5" y1="480.5" x2="44.5" y2="480.5" stroke="#00ffff" stroke-width="1"/>
<text transform="translate(40.0,479.3) scale(0.8,1)" fill="#00ff00" stroke="#00ff00" stroke-width="0.4" font-size="5.8" font-weight="bold" text-anchor="middle" letter-spacing="-0.2">42</text>
<line x1="44.5" y1="480.5" x2="93.5" y2="454.5" stroke="#00ffff" stroke-width="1"/>
<line x1="35.5" y1="492.5" x2="44.5" y2="492.5" stroke="#00ffff" stroke-width="1"/>
<text transform="translate(40.0,491.3) scale(0.8,1)" fill="#00ff00" stroke="#00ff00" stroke-width="0.4" font-size="5.8" font-weight="bold" text-anchor="middle" letter-spacing="-0.2">41</text>
<line x1="44.5" y1="492.5" x2="80.5" y2="464.5" stroke="#00ffff" stroke-width="1"/>
<line x1="447.5" y1="77.5" x2="447.5" y2="330.5" stroke="#ffffff" stroke-width="1"/>
<line x1="459.5" y1="77.5" x2="459.5" y2="330.5" stroke="#ffffff" stroke-width="1"/>
<line x1="461.5" y1="77.5" x2="461.5" y2="330.5" stroke="#ffffff" stroke-width="1"/>
<line x1="461.5" y1="79.5" x2="481.5" y2="79.5" stroke="#ffffff" stroke-width="1"/>
<line x1="483.5" y1="76.5" x2="588.5" y2="76.5" stroke="#ffffff" stroke-width="1"/>
<line x1="483.5" y1="77.5" x2="553.5" y2="77.5" stroke="#ffffff" stroke-width="1"/>
<line x1="582.5" y1="79.5" x2="582.5" y2="330.5" stroke="#ffffff" stroke-width="1"/>
<line x1="584.5" y1="79.5" x2="584.5" y2="330.5" stroke="#ffffff" stroke-width="1"/>
<line x1="587.5" y1="76.5" x2="587.5" y2="330.5" stroke="#ffffff" stroke-width="1"/>
<line x1="483.5" y1="77.5" x2="483.5" y2="184.5" stroke="#ffffff" stroke-width="1"/>
<line x1="553.5" y1="77.5" x2="553.5" y2="184.5" stroke="#ffffff" stroke-width="1"/>
<line x1="553.5" y1="79.5" x2="582.5" y2="79.5" stroke="#ffffff" stroke-width="1"/>
<rect x="489.5" y="67.5" width="10" height="9" stroke="#ffffff" stroke-width="1" fill="none"/>
<rect x="537.5" y="67.5" width="10" height="9" stroke="#ffffff" stroke-width="1" fill="none"/>
<rect x="489" y="76" width="11" height="3" fill="#ffffff"/>
<line x1="426.5" y1="67.5" x2="490.5" y2="67.5" stroke="#00ffff" stroke-width="1"/>
<line x1="428.5" y1="67.5" x2="428.5" y2="330.5" stroke="#00ffff" stroke-width="1"/>
<line x1="437.5" y1="76.5" x2="482.5" y2="76.5" stroke="#00ffff" stroke-width="1"/>
<line x1="439.5" y1="76.5" x2="439.5" y2="214.5" stroke="#00ffff" stroke-width="1"/>
<line x1="439.5" y1="214.5" x2="546.5" y2="214.5" stroke="#00ffff" stroke-width="1"/>
<rect x="435" y="108" width="4" height="6" fill="#00ff00"/>
<rect x="435" y="176" width="4" height="6" fill="#00ff00"/>
<rect x="424" y="195" width="4" height="8" fill="#00ff00"/>
<line x1="426.5" y1="330.5" x2="447.5" y2="330.5" stroke="#00ffff" stroke-width="1"/>
<line x1="483.5" y1="106.5" x2="553.5" y2="106.5" stroke="#ffffff" stroke-width="1"/>
<line x1="483.5" y1="109.5" x2="553.5" y2="109.5" stroke="#f00" stroke-dasharray="8,2,2,2"/>
<rect x="481.5" y="123.5" width="77" height="5" rx="2.5" stroke="#fff" fill="url(#chk)"/>
<circle cx="481.5" cy="127.0" r="4" stroke="#ffffff" stroke-width="1" fill="none"/>
<line x1="472.5" y1="123.0" x2="483.5" y2="123.0" stroke="#ffffff" stroke-width="1"/>
<rect x="489.5" y="140.5" width="57" height="8" rx="4" stroke="#fff" fill="none"/>
<line x1="487.5" y1="144.5" x2="582.5" y2="144.5" stroke="#f00" stroke-dasharray="8,2,2,2"/>
<line x1="439.5" y1="144.5" x2="488.5" y2="144.5" stroke="#00ffff" stroke-width="1"/>
<line x1="532.0" y1="128.5" x2="532.0" y2="160.5" stroke="#00ffff" stroke-width="1"/>
<line x1="528.5" y1="128.5" x2="535.5" y2="128.5" stroke="#00ffff" stroke-width="1"/>
<line x1="528.5" y1="160.5" x2="535.5" y2="160.5" stroke="#00ffff" stroke-width="1"/>
<rect x="528" y="136" width="3" height="17" fill="#00ff00"/>
<rect x="540" y="140" width="5" height="8" fill="#00ff00"/>
<rect x="548" y="139" width="4" height="10" fill="#00ff00"/>
<rect x="543.5" y="136.5" width="10" height="16" stroke="#00ffff" stroke-width="1" fill="none"/>
<g fill="#fff" opacity="0.8"><rect x="553" y="131" width="11" height="8"/><rect x="553" y="147" width="11" height="9"/></g>
<rect x="554" y="140" width="10" height="7" fill="#000"/>
<rect x="553.5" y="139.5" width="11" height="8" stroke="#ffffff" stroke-width="1" fill="none"/>
<line x1="554.5" y1="144.5" x2="558.5" y2="144.5" stroke="#ff0000" stroke-width="1"/>
<line x1="560.5" y1="144.5" x2="563.5" y2="144.5" stroke="#ff0000" stroke-width="1"/>
<rect x="556" y="149" width="2" height="2" fill="#000"/>
<rect x="559" y="152" width="2" height="2" fill="#000"/>
<rect x="556" y="133" width="2" height="2" fill="#000"/>
<rect x="484.5" y="160.5" width="69" height="4" rx="2" stroke="#fff" fill="url(#chk)"/>
<line x1="481.5" y1="179.5" x2="554.5" y2="179.5" stroke="#f00" stroke-dasharray="8,2,2,2"/>
<line x1="461.5" y1="176.5" x2="480.5" y2="176.5" stroke="#ffffff" stroke-width="1"/>
<line x1="480.5" y1="182.5" x2="556.5" y2="182.5" stroke="#ffffff" stroke-width="1"/>
<line x1="480.5" y1="184.5" x2="556.5" y2="184.5" stroke="#ffffff" stroke-width="1"/>
<line x1="480.5" y1="176.5" x2="480.5" y2="184.5" stroke="#ffffff" stroke-width="1"/>
<line x1="556.5" y1="164.5" x2="556.5" y2="184.5" stroke="#ffffff" stroke-width="1"/>
<rect x="473.5" y="132.5" width="7" height="23" stroke="#ffffff" stroke-width="1" fill="none"/>
<line x1="478.5" y1="145.5" x2="478.5" y2="153.5" stroke="#ff0000" stroke-width="1"/>
<line x1="473.5" y1="155.5" x2="473.5" y2="176.5" stroke="#ffffff" stroke-width="1"/>
<line x1="476.5" y1="155.5" x2="476.5" y2="176.5" stroke="#ffffff" stroke-width="1"/>
<rect x="563.5" y="86.5" width="9" height="36" stroke="#ffffff" stroke-width="1" fill="none"/>
<line x1="562.5" y1="86.5" x2="575.5" y2="86.5" stroke="#ff0000" stroke-width="1"/>
<rect x="564" y="122" width="9" height="37" fill="url(#hat)"/>
<rect x="564.5" y="122.5" width="8" height="36" stroke="#ffffff" stroke-width="1" fill="none"/>
<line x1="573.5" y1="141.5" x2="597.5" y2="141.5" stroke="#00ffff" stroke-width="1"/>
<line x1="573.5" y1="147.5" x2="597.5" y2="147.5" stroke="#00ffff" stroke-width="1"/>
<line x1="597.0" y1="141.5" x2="597.0" y2="166.5" stroke="#00ffff" stroke-width="1"/>
<rect x="592" y="150" width="3" height="15" fill="#0f0" opacity="0.8"/>
<line x1="555.5" y1="177.5" x2="582.5" y2="177.5" stroke="#ffffff" stroke-width="1"/>
<rect x="554.5" y="240.5" width="4" height="6" stroke="#ffffff" stroke-width="1" fill="none"/>
<line x1="553.5" y1="241.5" x2="553.5" y2="245.5" stroke="#ff00ff" stroke-width="1"/>
<line x1="559.5" y1="241.5" x2="559.5" y2="245.5" stroke="#ff00ff" stroke-width="1"/>
<line x1="556.5" y1="238.5" x2="556.5" y2="248.5" stroke="#ff0000" stroke-width="1"/>
<line x1="565.5" y1="177.5" x2="565.5" y2="215.5" stroke="#ffffff" stroke-width="1"/>
<line x1="572.5" y1="177.5" x2="572.5" y2="215.5" stroke="#ffffff" stroke-width="1"/>
<line x1="555.5" y1="160.5" x2="555.5" y2="240.5" stroke="#ffffff" stroke-width="1"/>
<line x1="557.5" y1="200.5" x2="557.5" y2="227.5" stroke="#ffffff" stroke-width="1"/>
<rect x="565" y="196" width="7" height="13" fill="url(#hat)"/>
<rect x="565" y="218" width="7" height="6" fill="url(#hat)"/>
<line x1="563.5" y1="202.5" x2="576.5" y2="202.5" stroke="#ff0000" stroke-width="1"/>
<line x1="562.5" y1="214.5" x2="577.5" y2="214.5" stroke="#ff0000" stroke-width="1"/>
<line x1="563.5" y1="225.5" x2="576.5" y2="225.5" stroke="#ff0000" stroke-width="1"/>
<rect x="562.5" y="209.5" width="13" height="9" stroke="#ffffff" stroke-width="1" fill="none"/>
<line x1="545.5" y1="209.5" x2="565.5" y2="209.5" stroke="#00ffff" stroke-width="1"/>
<line x1="530.5" y1="214.5" x2="565.5" y2="214.5" stroke="#00ffff" stroke-width="1"/>
<line x1="545.5" y1="209.5" x2="545.5" y2="249.5" stroke="#00ffff" stroke-width="1"/>
<rect x="542" y="221" width="3" height="15" fill="#00ff00"/>
<rect x="468.5" y="187.5" width="16" height="53" rx="2" stroke="#fff" fill="none"/>
<rect x="484.5" y="186.5" width="70" height="54" stroke="#ffffff" stroke-width="1" fill="none"/>
<line x1="461.5" y1="242.5" x2="582.5" y2="242.5" stroke="#ffffff" stroke-width="1"/>
<line x1="461.5" y1="244.5" x2="582.5" y2="244.5" stroke="#ffffff" stroke-width="1"/>
<circle cx="480.5" cy="243.5" r="2.5" stroke="#ffffff" stroke-width="1" fill="#fff"/>
<rect x="478" y="238" width="5" height="8" fill="#ffffff"/>
<line x1="480.5" y1="237.5" x2="480.5" y2="242.5" stroke="#ff0000" stroke-width="1"/>
<rect x="484.5" y="251.5" width="68" height="41" stroke="#ffffff" stroke-width="1" fill="none"/>
<rect x="486.5" y="256.5" width="64" height="34" stroke="#ffffff" stroke-width="1" fill="none"/>
<circle cx="518.5" cy="277.9" r="18.4" stroke="#ffffff" stroke-width="1" fill="none"/>
<polyline points="505.5,291.5 501.5,297.5" stroke="#ffffff" stroke-width="1" fill="none"/>
<polyline points="531.5,291.5 535.5,297.5" stroke="#ffffff" stroke-width="1" fill="none"/>
<polyline points="501.5,297.5 514.5,296.0 522.5,296.0 535.5,297.5" stroke="#ffffff" stroke-width="1" fill="none"/>
<rect x="499.5" y="298.5" width="6" height="8" stroke="#ffffff" stroke-width="1" fill="none"/>
<line x1="500.5" y1="299.5" x2="500.5" y2="305.5" stroke="#ff00ff" stroke-width="1"/>
<line x1="504.5" y1="299.5" x2="504.5" y2="305.5" stroke="#ff00ff" stroke-width="1"/>
<line x1="502.5" y1="302.5" x2="502.5" y2="309.5" stroke="#ff0000" stroke-width="1"/>
<rect x="532.5" y="298.5" width="6" height="8" stroke="#ffffff" stroke-width="1" fill="none"/>
<line x1="533.5" y1="299.5" x2="533.5" y2="305.5" stroke="#ff00ff" stroke-width="1"/>
<line x1="537.5" y1="299.5" x2="537.5" y2="305.5" stroke="#ff00ff" stroke-width="1"/>
<line x1="535.5" y1="302.5" x2="535.5" y2="309.5" stroke="#ff0000" stroke-width="1"/>
<line x1="461.5" y1="301.5" x2="582.5" y2="301.5" stroke="#ffffff" stroke-width="1"/>
<line x1="461.5" y1="304.5" x2="582.5" y2="304.5" stroke="#ffffff" stroke-width="1"/>
<line x1="461.5" y1="327.5" x2="582.5" y2="327.5" stroke="#ffffff" stroke-width="1"/>
<line x1="447.5" y1="330.5" x2="587.5" y2="330.5" stroke="#ffffff" stroke-width="1"/>
<line x1="518.5" y1="247.5" x2="518.5" y2="262.5" stroke="#ff0000" stroke-width="1"/>
<line x1="505.5" y1="244.5" x2="505.5" y2="251.5" stroke="#ffffff" stroke-width="1"/>
<line x1="515.5" y1="244.5" x2="515.5" y2="251.5" stroke="#ffffff" stroke-width="1"/>
<line x1="516.5" y1="244.5" x2="516.5" y2="251.5" stroke="#ffffff" stroke-width="1"/>
<line x1="521.5" y1="244.5" x2="521.5" y2="251.5" stroke="#ffffff" stroke-width="1"/>
<line x1="522.5" y1="244.5" x2="522.5" y2="251.5" stroke="#ffffff" stroke-width="1"/>
<line x1="534.5" y1="244.5" x2="534.5" y2="251.5" stroke="#ffffff" stroke-width="1"/>
<line x1="550.5" y1="244.5" x2="550.5" y2="251.5" stroke="#ffffff" stroke-width="1"/>
<line x1="504.5" y1="245.5" x2="504.5" y2="249.5" stroke="#ff00ff" stroke-width="1"/>
<line x1="533.5" y1="245.5" x2="533.5" y2="249.5" stroke="#ff00ff" stroke-width="1"/>
<circle cx="518.0" cy="256.0" r="2.5" stroke="#ffffff" stroke-width="1" fill="none"/>
<rect x="524" y="249" width="19" height="4" fill="#0f0" opacity="0.8"/>
<line x1="505.5" y1="254.5" x2="543.5" y2="254.5" stroke="#00ffff" stroke-width="1"/>
<circle cx="487.5" cy="253.5" r="4.5" stroke="#ffffff" stroke-width="1" fill="none"/>
<circle cx="487.5" cy="253.5" r="3.5" fill="url(#chk)"/>
<line x1="435.7" y1="52.5" x2="444.1" y2="52.5" stroke="#00ffff" stroke-width="1"/>
<text transform="translate(439.9,51.3) scale(0.8,1)" fill="#00ff00" stroke="#00ff00" stroke-width="0.4" font-size="5.8" font-weight="bold" text-anchor="middle" letter-spacing="-0.2">15</text>
<line x1="435.7" y1="52.5" x2="480.5" y2="126.5" stroke="#00ffff" stroke-width="1"/>
<line x1="455.5" y1="52.5" x2="464.0" y2="52.5" stroke="#00ffff" stroke-width="1"/>
<text transform="translate(459.75,51.3) scale(0.8,1)" fill="#00ff00" stroke="#00ff00" stroke-width="0.4" font-size="5.8" font-weight="bold" text-anchor="middle" letter-spacing="-0.2">16</text>
<line x1="455.5" y1="52.5" x2="494.5" y2="144.5" stroke="#00ffff" stroke-width="1"/>
<line x1="479.5" y1="52.5" x2="488.0" y2="52.5" stroke="#00ffff" stroke-width="1"/>
<text transform="translate(483.75,51.3) scale(0.8,1)" fill="#00ff00" stroke="#00ff00" stroke-width="0.4" font-size="5.8" font-weight="bold" text-anchor="middle" letter-spacing="-0.2">17</text>
<line x1="479.5" y1="52.5" x2="557.5" y2="134.5" stroke="#00ffff" stroke-width="1"/>
<line x1="493.5" y1="52.5" x2="502.0" y2="52.5" stroke="#00ffff" stroke-width="1"/>
<text transform="translate(497.75,51.3) scale(0.8,1)" fill="#00ff00" stroke="#00ff00" stroke-width="0.4" font-size="5.8" font-weight="bold" text-anchor="middle" letter-spacing="-0.2">18</text>
<line x1="493.5" y1="52.5" x2="559.5" y2="135.5" stroke="#00ffff" stroke-width="1"/>
<line x1="507.5" y1="52.5" x2="516.0" y2="52.5" stroke="#00ffff" stroke-width="1"/>
<text transform="translate(511.75,51.3) scale(0.8,1)" fill="#00ff00" stroke="#00ff00" stroke-width="0.4" font-size="5.8" font-weight="bold" text-anchor="middle" letter-spacing="-0.2">19</text>
<line x1="507.5" y1="52.5" x2="560.5" y2="137.5" stroke="#00ffff" stroke-width="1"/>
<line x1="554.0" y1="52.5" x2="562.5" y2="52.5" stroke="#00ffff" stroke-width="1"/>
<text transform="translate(558.25,51.3) scale(0.8,1)" fill="#00ff00" stroke="#00ff00" stroke-width="0.4" font-size="5.8" font-weight="bold" text-anchor="middle" letter-spacing="-0.2">60</text>
<line x1="554.0" y1="52.5" x2="561.1" y2="136.5" stroke="#00ffff" stroke-width="1"/>
<line x1="567.5" y1="52.5" x2="575.5" y2="52.5" stroke="#00ffff" stroke-width="1"/>
<text transform="translate(571.5,51.3) scale(0.8,1)" fill="#00ff00" stroke="#00ff00" stroke-width="0.4" font-size="5.8" font-weight="bold" text-anchor="middle" letter-spacing="-0.2">61</text>
<line x1="567.5" y1="52.5" x2="564.5" y2="140.5" stroke="#00ffff" stroke-width="1"/>
<line x1="579.5" y1="52.5" x2="588.0" y2="52.5" stroke="#00ffff" stroke-width="1"/>
<text transform="translate(583.75,51.3) scale(0.8,1)" fill="#00ff00" stroke="#00ff00" stroke-width="0.4" font-size="5.8" font-weight="bold" text-anchor="middle" letter-spacing="-0.2">62</text>
<line x1="579.5" y1="52.5" x2="572.5" y2="140.5" stroke="#00ffff" stroke-width="1"/>
<line x1="594.5" y1="52.5" x2="603.0" y2="52.5" stroke="#00ffff" stroke-width="1"/>
<text transform="translate(598.75,51.3) scale(0.8,1)" fill="#00ff00" stroke="#00ff00" stroke-width="0.4" font-size="5.8" font-weight="bold" text-anchor="middle" letter-spacing="-0.2">63</text>
<line x1="594.5" y1="52.5" x2="575.5" y2="141.5" stroke="#00ffff" stroke-width="1"/>
<line x1="610.0" y1="173.5" x2="619.5" y2="173.5" stroke="#00ffff" stroke-width="1"/>
<text transform="translate(614.75,172.3) scale(0.8,1)" fill="#00ff00" stroke="#00ff00" stroke-width="0.4" font-size="5.8" font-weight="bold" text-anchor="middle" letter-spacing="-0.2">64</text>
<line x1="610.0" y1="173.5" x2="548.5" y2="162.5" stroke="#00ffff" stroke-width="1"/>
<line x1="610.0" y1="180.5" x2="619.5" y2="180.5" stroke="#00ffff" stroke-width="1"/>
<text transform="translate(614.75,179.3) scale(0.8,1)" fill="#00ff00" stroke="#00ff00" stroke-width="0.4" font-size="5.8" font-weight="bold" text-anchor="middle" letter-spacing="-0.2">65</text>
<line x1="610.0" y1="180.5" x2="560.5" y2="180.5" stroke="#00ffff" stroke-width="1"/>
<line x1="610.0" y1="187.0" x2="619.5" y2="187.0" stroke="#00ffff" stroke-width="1"/>
<text transform="translate(614.75,185.8) scale(0.8,1)" fill="#00ff00" stroke="#00ff00" stroke-width="0.4" font-size="5.8" font-weight="bold" text-anchor="middle" letter-spacing="-0.2">66</text>
<line x1="610.0" y1="187.0" x2="545.5" y2="194.5" stroke="#00ffff" stroke-width="1"/>
<line x1="610.0" y1="193.5" x2="619.5" y2="193.5" stroke="#00ffff" stroke-width="1"/>
<text transform="translate(614.75,192.3) scale(0.8,1)" fill="#00ff00" stroke="#00ff00" stroke-width="0.4" font-size="5.8" font-weight="bold" text-anchor="middle" letter-spacing="-0.2">27</text>
<line x1="610.0" y1="193.5" x2="560.5" y2="210.5" stroke="#00ffff" stroke-width="1"/>
<line x1="610.0" y1="200.5" x2="619.5" y2="200.5" stroke="#00ffff" stroke-width="1"/>
<text transform="translate(614.75,199.3) scale(0.8,1)" fill="#00ff00" stroke="#00ff00" stroke-width="0.4" font-size="5.8" font-weight="bold" text-anchor="middle" letter-spacing="-0.2">28</text>
<line x1="610.0" y1="200.5" x2="570.5" y2="213.5" stroke="#00ffff" stroke-width="1"/>
<line x1="610.0" y1="208.5" x2="619.5" y2="208.5" stroke="#00ffff" stroke-width="1"/>
<text transform="translate(614.75,207.3) scale(0.8,1)" fill="#00ff00" stroke="#00ff00" stroke-width="0.4" font-size="5.8" font-weight="bold" text-anchor="middle" letter-spacing="-0.2">29</text>
<line x1="610.0" y1="208.5" x2="570.5" y2="218.5" stroke="#00ffff" stroke-width="1"/>
<line x1="610.0" y1="218.0" x2="619.5" y2="218.0" stroke="#00ffff" stroke-width="1"/>
<text transform="translate(614.75,216.8) scale(0.8,1)" fill="#00ff00" stroke="#00ff00" stroke-width="0.4" font-size="5.8" font-weight="bold" text-anchor="middle" letter-spacing="-0.2">30</text>
<line x1="610.0" y1="218.0" x2="548.5" y2="240.5" stroke="#00ffff" stroke-width="1"/>
<line x1="610.0" y1="226.0" x2="619.5" y2="226.0" stroke="#00ffff" stroke-width="1"/>
<text transform="translate(614.75,224.8) scale(0.8,1)" fill="#00ff00" stroke="#00ff00" stroke-width="0.4" font-size="5.8" font-weight="bold" text-anchor="middle" letter-spacing="-0.2">31</text>
<line x1="610.0" y1="226.0" x2="556.5" y2="246.5" stroke="#00ffff" stroke-width="1"/>
<line x1="610.0" y1="234.0" x2="619.5" y2="234.0" stroke="#00ffff" stroke-width="1"/>
<text transform="translate(614.75,232.8) scale(0.8,1)" fill="#00ff00" stroke="#00ff00" stroke-width="0.4" font-size="5.8" font-weight="bold" text-anchor="middle" letter-spacing="-0.2">32</text>
<line x1="610.0" y1="234.0" x2="556.5" y2="247.5" stroke="#00ffff" stroke-width="1"/>
<line x1="610.0" y1="248.0" x2="619.5" y2="248.0" stroke="#00ffff" stroke-width="1"/>
<text transform="translate(614.75,246.8) scale(0.8,1)" fill="#00ff00" stroke="#00ff00" stroke-width="0.4" font-size="5.8" font-weight="bold" text-anchor="middle" letter-spacing="-0.2">33</text>
<line x1="610.0" y1="248.0" x2="560.5" y2="250.5" stroke="#00ffff" stroke-width="1"/>
<line x1="610.0" y1="257.5" x2="619.5" y2="257.5" stroke="#00ffff" stroke-width="1"/>
<text transform="translate(614.75,256.3) scale(0.8,1)" fill="#00ff00" stroke="#00ff00" stroke-width="0.4" font-size="5.8" font-weight="bold" text-anchor="middle" letter-spacing="-0.2">34</text>
<line x1="610.0" y1="257.5" x2="540.5" y2="254.5" stroke="#00ffff" stroke-width="1"/>
<line x1="610.0" y1="269.0" x2="619.5" y2="269.0" stroke="#00ffff" stroke-width="1"/>
<text transform="translate(614.75,267.8) scale(0.8,1)" fill="#00ff00" stroke="#00ff00" stroke-width="0.4" font-size="5.8" font-weight="bold" text-anchor="middle" letter-spacing="-0.2">35</text>
<line x1="610.0" y1="269.0" x2="540.5" y2="256.5" stroke="#00ffff" stroke-width="1"/>
<line x1="610.0" y1="282.5" x2="619.5" y2="282.5" stroke="#00ffff" stroke-width="1"/>
<text transform="translate(614.75,281.3) scale(0.8,1)" fill="#00ff00" stroke="#00ff00" stroke-width="0.4" font-size="5.8" font-weight="bold" text-anchor="middle" letter-spacing="-0.2">36</text>
<line x1="610.0" y1="282.5" x2="548.5" y2="272.5" stroke="#00ffff" stroke-width="1"/>
<line x1="610.0" y1="293.5" x2="619.5" y2="293.5" stroke="#00ffff" stroke-width="1"/>
<text transform="translate(614.75,292.3) scale(0.8,1)" fill="#00ff00" stroke="#00ff00" stroke-width="0.4" font-size="5.8" font-weight="bold" text-anchor="middle" letter-spacing="-0.2">37</text>
<line x1="610.0" y1="293.5" x2="525.5" y2="286.5" stroke="#00ffff" stroke-width="1"/>
<line x1="610.0" y1="302.5" x2="619.5" y2="302.5" stroke="#00ffff" stroke-width="1"/>
<text transform="translate(614.75,301.3) scale(0.8,1)" fill="#00ff00" stroke="#00ff00" stroke-width="0.4" font-size="5.8" font-weight="bold" text-anchor="middle" letter-spacing="-0.2">38</text>
<line x1="610.0" y1="302.5" x2="540.5" y2="300.5" stroke="#00ffff" stroke-width="1"/>
<line x1="610.0" y1="313.0" x2="619.5" y2="313.0" stroke="#00ffff" stroke-width="1"/>
<text transform="translate(614.75,311.8) scale(0.8,1)" fill="#00ff00" stroke="#00ff00" stroke-width="0.4" font-size="5.8" font-weight="bold" text-anchor="middle" letter-spacing="-0.2">39</text>
<line x1="610.0" y1="313.0" x2="535.5" y2="306.5" stroke="#00ffff" stroke-width="1"/>
<line x1="610.0" y1="323.5" x2="619.5" y2="323.5" stroke="#00ffff" stroke-width="1"/>
<text transform="translate(614.75,322.3) scale(0.8,1)" fill="#00ff00" stroke="#00ff00" stroke-width="0.4" font-size="5.8" font-weight="bold" text-anchor="middle" letter-spacing="-0.2">40</text>
<line x1="610.0" y1="323.5" x2="535.5" y2="308.5" stroke="#00ffff" stroke-width="1"/>
<rect x="351" y="242" width="3" height="4" fill="#fff" opacity="0.85"/>
<rect x="355" y="241" width="11" height="6" fill="#fff" opacity="0.85"/>
<rect x="368" y="242" width="8" height="4" fill="#fff" opacity="0.85"/>
<circle cx="395.0" cy="255.5" r="14" stroke="#ffffff" stroke-width="1" fill="none"/>
<rect x="397" y="241" width="2" height="13" fill="#ffffff"/>
<line x1="398.5" y1="254.5" x2="398.5" y2="269.5" stroke="#ffffff" stroke-width="1"/>
<rect x="389" y="253" width="10" height="2" fill="#ffffff"/>
<rect x="389" y="253" width="2" height="16" fill="#ffffff"/>
<rect x="391.5" y="255.5" width="3" height="13" stroke="#ffffff" stroke-width="1" fill="none"/>
<rect x="395.5" y="255.5" width="3" height="13" stroke="#ffffff" stroke-width="1" fill="none"/>
<line x1="399.5" y1="247.5" x2="407.5" y2="254.0" stroke="#ffffff" stroke-width="1"/>
<line x1="399.5" y1="252.5" x2="407.5" y2="258.5" stroke="#ffffff" stroke-width="1"/>
<line x1="399.5" y1="259.5" x2="408.5" y2="259.5" stroke="#ffffff" stroke-width="1"/>
<line x1="402.5" y1="243.5" x2="406.5" y2="246.5" stroke="#ffffff" stroke-width="1"/>
<rect x="352" y="297" width="4" height="4" fill="#fff" opacity="0.85"/>
<rect x="357" y="296" width="11" height="6" fill="#fff" opacity="0.85"/>
<rect x="370" y="297" width="8" height="4" fill="#fff" opacity="0.85"/>
<circle cx="394.9" cy="317.3" r="14.2" stroke="#ffffff" stroke-width="1" fill="none"/>
<rect x="387.5" y="311.5" width="21" height="15" fill="url(#chk)" stroke="#fff"/>
<line x1="394.5" y1="303.5" x2="394.5" y2="331.5" stroke="#ffffff" stroke-width="1"/>
<line x1="393.5" y1="322.5" x2="400.5" y2="315.5" stroke="#000" stroke-width="1"/>
<line x1="395.5" y1="324.5" x2="403.5" y2="316.5" stroke="#000" stroke-width="1"/>
<line x1="397.5" y1="325.5" x2="404.5" y2="318.5" stroke="#000" stroke-width="1"/>
<rect x="351" y="367" width="4" height="4" fill="#fff" opacity="0.85"/>
<rect x="356" y="366" width="11" height="6" fill="#fff" opacity="0.85"/>
<rect x="369" y="367" width="8" height="4" fill="#fff" opacity="0.85"/>
<circle cx="398.9" cy="392.5" r="15.2" stroke="#ffffff" stroke-width="1" fill="none"/>
<rect x="384" y="387" width="29" height="2" fill="#ffffff"/>
<line x1="384.5" y1="394.5" x2="413.5" y2="394.5" stroke="#ffffff" stroke-width="1"/>
<rect x="384" y="389" width="3" height="5" fill="#ffffff"/>
<rect x="409" y="389" width="4" height="5" fill="#ffffff"/>
<line x1="402.5" y1="377.5" x2="402.5" y2="407.5" stroke="#ffffff" stroke-width="1"/>
<line x1="395.5" y1="389.5" x2="395.5" y2="394.5" stroke="#ffffff" stroke-width="1"/>
<line x1="404.5" y1="389.5" x2="404.5" y2="394.5" stroke="#ffffff" stroke-width="1"/>
<line x1="389.5" y1="389.5" x2="393.5" y2="394.5" stroke="#ffffff" stroke-width="1"/>
<line x1="392.5" y1="389.5" x2="395.5" y2="392.5" stroke="#ffffff" stroke-width="1"/>
<line x1="405.5" y1="389.5" x2="409.5" y2="394.5" stroke="#ffffff" stroke-width="1"/>
<line x1="407.5" y1="389.5" x2="409.5" y2="391.5" stroke="#ffffff" stroke-width="1"/>
<line x1="386.5" y1="382.5" x2="386.5" y2="387.5" stroke="#ff0000" stroke-width="1"/>
<line x1="386.5" y1="395.5" x2="386.5" y2="401.5" stroke="#ff0000" stroke-width="1"/>
<line x1="409.5" y1="385.5" x2="409.5" y2="388.5" stroke="#ff0000" stroke-width="1"/>
<line x1="409.5" y1="395.5" x2="409.5" y2="401.5" stroke="#ff0000" stroke-width="1"/>
<rect x="409" y="390" width="1" height="1" fill="#ff0000"/>
<rect x="352" y="415" width="3" height="4" fill="#fff" opacity="0.85"/>
<rect x="356" y="414" width="11" height="6" fill="#fff" opacity="0.85"/>
<rect x="369" y="415" width="8" height="4" fill="#fff" opacity="0.85"/>
<circle cx="401.0" cy="431.9" r="13.4" stroke="#ffffff" stroke-width="1" fill="none"/>
<line x1="388.5" y1="428.5" x2="413.5" y2="428.5" stroke="#ffffff" stroke-width="1"/>
<line x1="400.5" y1="430.5" x2="413.5" y2="430.5" stroke="#ffffff" stroke-width="1"/>
<rect x="391.5" y="428.5" width="7" height="8" stroke="#ffffff" stroke-width="1" fill="none"/>
<line x1="399.5" y1="430.5" x2="399.5" y2="445.5" stroke="#ffffff" stroke-width="1"/>
<line x1="398.5" y1="436.5" x2="402.5" y2="431.5" stroke="#ffffff" stroke-width="1"/>
<line x1="391.5" y1="429.5" x2="391.5" y2="436.5" stroke="#ff00ff" stroke-width="1"/>
<line x1="405.5" y1="426.5" x2="405.5" y2="431.5" stroke="#ff0000" stroke-width="1"/>
<line x1="396.5" y1="436.5" x2="403.5" y2="436.5" stroke="#ff0000" stroke-width="1"/>
<rect x="354" y="458" width="3" height="4" fill="#fff" opacity="0.85"/>
<rect x="358" y="457" width="10" height="6" fill="#fff" opacity="0.85"/>
<rect x="370" y="458" width="7" height="4" fill="#fff" opacity="0.85"/>
<circle cx="399.9" cy="478.8" r="15.3" stroke="#ffffff" stroke-width="1" fill="none"/>
<line x1="385.5" y1="477.5" x2="414.5" y2="477.5" stroke="#ffffff" stroke-width="1"/>
<line x1="385.5" y1="479.5" x2="414.5" y2="479.5" stroke="#ffffff" stroke-width="1"/>
<rect x="399.5" y="479.5" width="9" height="10" stroke="#ffffff" stroke-width="1" fill="none"/>
<line x1="389.5" y1="489.5" x2="410.5" y2="489.5" stroke="#ffffff" stroke-width="1"/>
<line x1="392.5" y1="491.5" x2="407.5" y2="491.5" stroke="#ffffff" stroke-width="1"/>
<line x1="403.5" y1="480.5" x2="403.5" y2="490.5" stroke="#ff0000" stroke-width="1"/>
<rect x="445.5" y="349.5" width="40" height="5" stroke="#fff" fill="url(#chk)"/>
<rect x="482.5" y="354.5" width="3" height="35" stroke="#fff" fill="none"/>
<line x1="484" y1="355" x2="484" y2="389" stroke="#fff" stroke-dasharray="1,2"/>
<rect x="508.5" y="349.5" width="3" height="40" stroke="#fff" fill="none"/>
<line x1="510" y1="350" x2="510" y2="389" stroke="#fff" stroke-dasharray="1,2"/>
<rect x="482.5" y="386.5" width="29" height="3" stroke="#fff" fill="none"/>
<line x1="483" y1="388" x2="511" y2="388" stroke="#fff" stroke-dasharray="1,2"/>
<rect x="437.5" y="369.5" width="45" height="3" stroke="#fff" fill="url(#chk)"/>
<rect x="437.5" y="379.5" width="45" height="2" stroke="#fff" fill="url(#chk)"/>
<rect x="425" y="372" width="57" height="7" fill="#ffffff"/>
<rect x="423" y="374" width="2" height="3" fill="#ffffff"/>
<rect x="426" y="374" width="55" height="1" fill="#000"/>
<rect x="426" y="376" width="55" height="1" fill="#000"/>
<line x1="416.5" y1="375.5" x2="423.5" y2="375.5" stroke="#ffffff" stroke-width="1"/>
<line x1="466.5" y1="372.5" x2="466.5" y2="378.5" stroke="#ffffff" stroke-width="1"/>
<rect x="526" y="353" width="22" height="5" fill="#fff" opacity="0.85"/>
<rect x="468.5" y="438.5" width="42" height="4" stroke="#fff" fill="url(#chk)"/>
<rect x="482.5" y="442.5" width="3" height="35" stroke="#fff" fill="none"/>
<line x1="484" y1="443" x2="484" y2="477" stroke="#fff" stroke-dasharray="1,2"/>
<rect x="507.5" y="438.5" width="3" height="39" stroke="#fff" fill="none"/>
<line x1="509" y1="439" x2="509" y2="477" stroke="#fff" stroke-dasharray="1,2"/>
<rect x="482.5" y="474.5" width="28" height="3" stroke="#fff" fill="none"/>
<line x1="483" y1="476" x2="510" y2="476" stroke="#fff" stroke-dasharray="1,2"/>
<rect x="437.5" y="457.5" width="45" height="3" stroke="#fff" fill="url(#chk)"/>
<rect x="437.5" y="467.5" width="45" height="2" stroke="#fff" fill="url(#chk)"/>
<rect x="425" y="460" width="57" height="7" fill="#ffffff"/>
<rect x="423" y="462" width="2" height="3" fill="#ffffff"/>
<rect x="426" y="462" width="55" height="1" fill="#000"/>
<rect x="426" y="464" width="55" height="1" fill="#000"/>
<line x1="416.5" y1="463.5" x2="423.5" y2="463.5" stroke="#ffffff" stroke-width="1"/>
<line x1="465.5" y1="460.5" x2="465.5" y2="466.5" stroke="#ffffff" stroke-width="1"/>
<rect x="527" y="442" width="21" height="5" fill="#fff" opacity="0.85"/>
<rect x="468.5" y="510.5" width="42" height="5" stroke="#fff" fill="url(#chk)"/>
<rect x="500.5" y="515.5" width="3" height="35" stroke="#fff" fill="none"/>
<line x1="502" y1="516" x2="502" y2="550" stroke="#fff" stroke-dasharray="1,2"/>
<rect x="507.5" y="515.5" width="3" height="35" stroke="#fff" fill="none"/>
<line x1="509" y1="516" x2="509" y2="550" stroke="#fff" stroke-dasharray="1,2"/>
<rect x="500.5" y="547.5" width="27" height="3" stroke="#fff" fill="none"/>
<line x1="501" y1="549" x2="527" y2="549" stroke="#fff" stroke-dasharray="1,2"/>
<rect x="454.5" y="530.5" width="46" height="3" stroke="#fff" fill="url(#chk)"/>
<rect x="454.5" y="540.5" width="46" height="2" stroke="#fff" fill="url(#chk)"/>
<rect x="427" y="533" width="73" height="7" fill="#ffffff"/>
<rect x="425" y="535" width="2" height="3" fill="#ffffff"/>
<rect x="428" y="535" width="71" height="1" fill="#000"/>
<rect x="428" y="537" width="71" height="1" fill="#000"/>
<line x1="418.5" y1="536.5" x2="425.5" y2="536.5" stroke="#ffffff" stroke-width="1"/>
<line x1="466.5" y1="533.5" x2="466.5" y2="539.5" stroke="#ffffff" stroke-width="1"/>
<rect x="527" y="515" width="22" height="5" fill="#fff" opacity="0.85"/>
<rect x="605.5" y="350.5" width="42" height="4" stroke="#fff" fill="url(#chk)"/>
<rect x="607.5" y="354.5" width="3" height="34" stroke="#fff" fill="none"/>
<line x1="609" y1="355" x2="609" y2="388" stroke="#fff" stroke-dasharray="1,2"/>
<rect x="645.5" y="350.5" width="2" height="37" stroke="#fff" fill="none"/>
<line x1="647" y1="351" x2="647" y2="387" stroke="#fff" stroke-dasharray="1,2"/>
<rect x="607.5" y="386.5" width="29" height="3" stroke="#fff" fill="none"/>
<line x1="608" y1="388" x2="636" y2="388" stroke="#fff" stroke-dasharray="1,2"/>
<rect x="562.5" y="369.5" width="45" height="3" stroke="#fff" fill="url(#chk)"/>
<rect x="562.5" y="379.5" width="45" height="2" stroke="#fff" fill="url(#chk)"/>
<rect x="559" y="372" width="48" height="7" fill="#ffffff"/>
<rect x="557" y="374" width="2" height="3" fill="#ffffff"/>
<rect x="560" y="374" width="46" height="1" fill="#000"/>
<rect x="560" y="376" width="46" height="1" fill="#000"/>
<line x1="550.5" y1="375.5" x2="557.5" y2="375.5" stroke="#ffffff" stroke-width="1"/>
<line x1="553.5" y1="375.5" x2="617.5" y2="375.5" stroke="#ffffff" stroke-width="1"/>
<line x1="603.5" y1="372.5" x2="603.5" y2="378.5" stroke="#ffffff" stroke-width="1"/>
<rect x="664" y="353" width="23" height="5" fill="#fff" opacity="0.85"/>
<rect x="605.5" y="422.5" width="42" height="5" stroke="#fff" fill="url(#chk)"/>
<rect x="619.5" y="427.5" width="3" height="35" stroke="#fff" fill="none"/>
<line x1="621" y1="428" x2="621" y2="462" stroke="#fff" stroke-dasharray="1,2"/>
<rect x="645.5" y="427.5" width="2" height="35" stroke="#fff" fill="none"/>
<line x1="647" y1="428" x2="647" y2="462" stroke="#fff" stroke-dasharray="1,2"/>
<rect x="619.5" y="459.5" width="28" height="3" stroke="#fff" fill="none"/>
<line x1="620" y1="461" x2="647" y2="461" stroke="#fff" stroke-dasharray="1,2"/>
<rect x="574.5" y="442.5" width="45" height="3" stroke="#fff" fill="url(#chk)"/>
<rect x="574.5" y="452.5" width="45" height="2" stroke="#fff" fill="url(#chk)"/>
<rect x="563" y="445" width="56" height="7" fill="#ffffff"/>
<rect x="561" y="447" width="2" height="3" fill="#ffffff"/>
<rect x="564" y="447" width="54" height="1" fill="#000"/>
<rect x="564" y="449" width="54" height="1" fill="#000"/>
<line x1="554.5" y1="448.5" x2="561.5" y2="448.5" stroke="#ffffff" stroke-width="1"/>
<line x1="603.5" y1="445.5" x2="603.5" y2="451.5" stroke="#ffffff" stroke-width="1"/>
<rect x="664" y="426" width="23" height="5" fill="#fff" opacity="0.85"/>
<rect x="651" y="94" width="2" height="5" fill="#fff" opacity="0.85"/>
<rect x="655" y="94" width="10" height="5" fill="#fff" opacity="0.85"/>
<rect x="667" y="94" width="8" height="5" fill="#fff" opacity="0.85"/>
<circle cx="697.1" cy="109.8" r="13.8" stroke="#ffffff" stroke-width="1" fill="none"/>
<rect x="692" y="96" width="2" height="28" fill="#ffffff"/>
<rect x="694" y="108" width="3" height="16" fill="#ffffff"/>
<rect x="695" y="115" width="1" height="1" fill="#000"/>
<rect x="697.5" y="108.5" width="4" height="15" stroke="#ffffff" stroke-width="1" fill="none"/>
<line x1="683.5" y1="108.5" x2="692.5" y2="108.5" stroke="#ffffff" stroke-width="1"/>
<line x1="683.5" y1="113.5" x2="692.5" y2="113.5" stroke="#ffffff" stroke-width="1"/>
<rect x="683" y="109" width="9" height="3" fill="url(#chk)"/>
<rect x="716" y="154" width="18" height="5" fill="#fff" opacity="0.88"/>
<rect x="716" y="160.5" width="42" height="5.5" fill="#fff" opacity="0.88"/>
<rect x="716" y="167.5" width="13" height="4.5" fill="#fff" opacity="0.88"/>
<rect x="716" y="173" width="30" height="6" fill="#fff" opacity="0.88"/>
<rect x="716" y="180" width="31" height="5" fill="#fff" opacity="0.88"/>
<rect x="716" y="186" width="27" height="5.5" fill="#fff" opacity="0.88"/>
<g fill="#00ff00" opacity="0.82"><rect x="697" y="211" width="5.5" height="4"/><rect x="704.5" y="211" width="16.5" height="4"/><rect x="730.5" y="211" width="7.1" height="4"/><rect x="754.5" y="211" width="2.0" height="4"/><rect x="768" y="211" width="9" height="4"/><rect x="697" y="216" width="5.5" height="5"/><rect x="704.5" y="216" width="16.5" height="5"/><rect x="730.5" y="216" width="6.5" height="5"/><rect x="754.5" y="216" width="2.0" height="5"/><rect x="768" y="216" width="9" height="5"/><rect x="697" y="222" width="5.5" height="4"/><rect x="704.5" y="222" width="24.2" height="4"/><rect x="730.5" y="222" width="7.1" height="4"/><rect x="754.5" y="222" width="2.0" height="4"/><rect x="697" y="227" width="5.5" height="5"/><rect x="704.5" y="227" width="24.2" height="5"/><rect x="730.5" y="227" width="17.2" height="5"/><rect x="754.5" y="227" width="2.0" height="5"/><rect x="697" y="233" width="5.5" height="4"/><rect x="704.5" y="233" width="16.5" height="4"/><rect x="730.5" y="233" width="14.2" height="4"/><rect x="754.5" y="233" width="2.0" height="4"/><rect x="767.5" y="233" width="9.5" height="4"/><rect x="697" y="238" width="5.5" height="5"/><rect x="704.5" y="238" width="12.3" height="5"/><rect x="730.5" y="238" width="7.1" height="5"/><rect x="754.5" y="238" width="2.0" height="5"/><rect x="697" y="244" width="5.5" height="5"/><rect x="704.5" y="244" width="24.2" height="5"/><rect x="730.5" y="244" width="7.1" height="5"/><rect x="754.5" y="244" width="2.0" height="5"/><rect x="697" y="250" width="5.5" height="4"/><rect x="704.5" y="250" width="21.2" height="4"/><rect x="730.5" y="250" width="21.4" height="4"/><rect x="754.5" y="250" width="2.0" height="4"/><rect x="697" y="255" width="5.5" height="5"/><rect x="704.5" y="255" width="21.2" height="5"/><rect x="730.5" y="255" width="21.4" height="5"/><rect x="754.5" y="255" width="2.0" height="5"/><rect x="697" y="261" width="5.5" height="4"/><rect x="704.5" y="261" width="24.2" height="4"/><rect x="730.5" y="261" width="14.2" height="4"/><rect x="754.5" y="261" width="2.0" height="4"/><rect x="697" y="266" width="5.5" height="5"/><rect x="704.5" y="266" width="20.5" height="5"/><rect x="730.5" y="266" width="10.7" height="5"/><rect x="754.5" y="266" width="2.0" height="5"/><rect x="697" y="272" width="5.5" height="4"/><rect x="704.5" y="272" width="24.2" height="4"/><rect x="730.5" y="272" width="14.2" height="4"/><rect x="754.5" y="272" width="2.0" height="4"/><rect x="697" y="277" width="5.5" height="5"/><rect x="704.5" y="277" width="16.5" height="5"/><rect x="730.5" y="277" width="7.1" height="5"/><rect x="754.5" y="277" width="2.0" height="5"/><rect x="770" y="277" width="4" height="5"/><rect x="697" y="283" width="5.5" height="5"/><rect x="704.5" y="283" width="24.2" height="5"/><rect x="730.5" y="283" width="14.2" height="5"/><rect x="754.5" y="283" width="2.0" height="5"/><rect x="697" y="289" width="5.5" height="4"/><rect x="704.5" y="289" width="20.5" height="4"/><rect x="730.5" y="289" width="10.7" height="4"/><rect x="754.5" y="289" width="2.0" height="4"/><rect x="697" y="294" width="5.5" height="5"/><rect x="704.5" y="294" width="24.2" height="5"/><rect x="730.5" y="294" width="14.2" height="5"/><rect x="754.5" y="294" width="2.0" height="5"/><rect x="697" y="300" width="5.5" height="4"/><rect x="704.5" y="300" width="16.5" height="4"/><rect x="730.5" y="300" width="14.2" height="4"/><rect x="754.5" y="300" width="2.0" height="4"/><rect x="768" y="300" width="9" height="4"/><rect x="697" y="305" width="5.5" height="5"/><rect x="704.5" y="305" width="16.5" height="5"/><rect x="730.5" y="305" width="7.1" height="5"/><rect x="754.5" y="305" width="2.0" height="5"/><rect x="767.5" y="305" width="9.5" height="5"/><rect x="697" y="311" width="5.5" height="4"/><rect x="704.5" y="311" width="24.2" height="4"/><rect x="730.5" y="311" width="14.2" height="4"/><rect x="754.5" y="311" width="2.0" height="4"/><rect x="697" y="316" width="5.5" height="5"/><rect x="704.5" y="316" width="16.5" height="5"/><rect x="730.5" y="316" width="7.1" height="5"/><rect x="754.5" y="316" width="2.0" height="5"/><rect x="770" y="316" width="4" height="5"/><rect x="697" y="322" width="5.5" height="5"/><rect x="704.5" y="322" width="24.2" height="5"/><rect x="730.5" y="322" width="14.2" height="5"/><rect x="754.5" y="322" width="2.0" height="5"/><rect x="697" y="328" width="5.5" height="4"/><rect x="704.5" y="328" width="24.2" height="4"/><rect x="730.5" y="328" width="10.5" height="4"/><rect x="754.5" y="328" width="2.0" height="4"/><rect x="697" y="333" width="5.5" height="5"/><rect x="704.5" y="333" width="24.2" height="5"/><rect x="730.5" y="333" width="14.2" height="5"/><rect x="754.5" y="333" width="2.0" height="5"/><rect x="697" y="339" width="5.5" height="4"/><rect x="704.5" y="339" width="12.3" height="4"/><rect x="730.5" y="339" width="7.1" height="4"/><rect x="754.5" y="339" width="2.0" height="4"/><rect x="697" y="344" width="5.5" height="5"/><rect x="704.5" y="344" width="16.5" height="5"/><rect x="730.5" y="344" width="14.2" height="5"/><rect x="754.5" y="344" width="2.0" height="5"/><rect x="770" y="344" width="4" height="5"/><rect x="697" y="350" width="5.5" height="4"/><rect x="704.5" y="350" width="15.5" height="4"/><rect x="730.5" y="350" width="17.5" height="4"/><rect x="754.5" y="350" width="2.0" height="4"/><rect x="770" y="350" width="4" height="4"/><rect x="697" y="355" width="5.5" height="5"/><rect x="704.5" y="355" width="16.5" height="5"/><rect x="730.5" y="355" width="17.5" height="5"/><rect x="754.5" y="355" width="2.0" height="5"/><rect x="770" y="355" width="4" height="5"/><rect x="697" y="361" width="5.5" height="5"/><rect x="704.5" y="361" width="16.5" height="5"/><rect x="730.5" y="361" width="14.5" height="5"/><rect x="754.5" y="361" width="2.0" height="5"/><rect x="770" y="361" width="4" height="5"/><rect x="697" y="367" width="5.5" height="4"/><rect x="704.5" y="367" width="21.2" height="4"/><rect x="730.5" y="367" width="17.5" height="4"/><rect x="754.5" y="367" width="2.0" height="4"/><rect x="697" y="372" width="5.5" height="5"/><rect x="704.5" y="372" width="24.2" height="5"/><rect x="730.5" y="372" width="10.5" height="5"/><rect x="754.5" y="372" width="2.0" height="5"/><rect x="697" y="378" width="5.5" height="4"/><rect x="704.5" y="378" width="24.2" height="4"/><rect x="730.5" y="378" width="17.5" height="4"/><rect x="754.5" y="378" width="2.0" height="4"/><rect x="697" y="383" width="5.5" height="5"/><rect x="704.5" y="383" width="24.2" height="5"/><rect x="730.5" y="383" width="7.1" height="5"/><rect x="754.5" y="383" width="2.0" height="5"/><rect x="697" y="389" width="5.5" height="4"/><rect x="704.5" y="389" width="16.5" height="4"/><rect x="730.5" y="389" width="7.1" height="4"/><rect x="754.5" y="389" width="2.0" height="4"/><rect x="697" y="394" width="5.5" height="5"/><rect x="704.5" y="394" width="16.5" height="5"/><rect x="730.5" y="394" width="10.5" height="5"/><rect x="754.5" y="394" width="2.0" height="5"/><rect x="767.5" y="394" width="9.5" height="5"/><rect x="697" y="400" width="5.5" height="5"/><rect x="704.5" y="400" width="16.5" height="5"/><rect x="730.5" y="400" width="10.5" height="5"/><rect x="754.5" y="400" width="2.0" height="5"/><rect x="770" y="400" width="4" height="5"/><rect x="794.5" y="400" width="17.5" height="5"/><rect x="697" y="406" width="5.5" height="4"/><rect x="704.5" y="406" width="12.3" height="4"/><rect x="730.5" y="406" width="7.1" height="4"/><rect x="754.5" y="406" width="2.0" height="4"/><rect x="697" y="411" width="5.5" height="5"/><rect x="704.5" y="411" width="16.5" height="5"/><rect x="730.5" y="411" width="14.5" height="5"/><rect x="754.5" y="411" width="2.0" height="5"/><rect x="766" y="411" width="14" height="5"/><rect x="697" y="417" width="5.5" height="4"/><rect x="704.5" y="417" width="16.5" height="4"/><rect x="730.5" y="417" width="7.1" height="4"/><rect x="754.5" y="417" width="2.0" height="4"/><rect x="767.5" y="417" width="9.5" height="4"/><rect x="697" y="422" width="5.5" height="5"/><rect x="704.5" y="422" width="16.5" height="5"/><rect x="730.5" y="422" width="10.5" height="5"/><rect x="754.5" y="422" width="2.0" height="5"/><rect x="767.5" y="422" width="9.5" height="5"/><rect x="697" y="428" width="5.5" height="5"/><rect x="704.5" y="428" width="24.2" height="5"/><rect x="730.5" y="428" width="7.1" height="5"/><rect x="754.5" y="428" width="2.0" height="5"/><rect x="697" y="434" width="5.5" height="4"/><rect x="704.5" y="434" width="16.5" height="4"/><rect x="730.5" y="434" width="21.5" height="4"/><rect x="754.5" y="434" width="2.0" height="4"/><rect x="767.5" y="434" width="9.5" height="4"/><rect x="697" y="439" width="5.5" height="5"/><rect x="704.5" y="439" width="24.2" height="5"/><rect x="730.5" y="439" width="14.2" height="5"/><rect x="754.5" y="439" width="2.0" height="5"/><rect x="765" y="439" width="18" height="5"/><rect x="697" y="445" width="5.5" height="4"/><rect x="704.5" y="445" width="24.2" height="4"/><rect x="730.5" y="445" width="14.2" height="4"/><rect x="754.5" y="445" width="2.0" height="4"/><rect x="765" y="445" width="18" height="4"/><rect x="697" y="450" width="5.5" height="5"/><rect x="704.5" y="450" width="16.5" height="5"/><rect x="730.5" y="450" width="7.1" height="5"/><rect x="754.5" y="450" width="2.0" height="5"/><rect x="767.5" y="450" width="9.5" height="5"/><rect x="697" y="456" width="5.5" height="4"/><rect x="704.5" y="456" width="24.2" height="4"/><rect x="730.5" y="456" width="7.1" height="4"/><rect x="754.5" y="456" width="2.0" height="4"/><rect x="697" y="461" width="5.5" height="5"/><rect x="704.5" y="461" width="24.2" height="5"/><rect x="730.5" y="461" width="14.2" height="5"/><rect x="754.5" y="461" width="2.0" height="5"/><rect x="697" y="467" width="5.5" height="5"/><rect x="704.5" y="467" width="16.5" height="5"/><rect x="730.5" y="467" width="14.2" height="5"/><rect x="754.5" y="467" width="2.0" height="5"/><rect x="766" y="467" width="14" height="5"/><rect x="697" y="473" width="5.5" height="4"/><rect x="704.5" y="473" width="24.2" height="4"/><rect x="730.5" y="473" width="27.3" height="4"/><rect x="754.5" y="473" width="2.0" height="4"/><rect x="697" y="478" width="5.5" height="5"/><rect x="704.5" y="478" width="16.5" height="5"/><rect x="730.5" y="478" width="14.2" height="5"/><rect x="754.5" y="478" width="2.0" height="5"/><rect x="767.5" y="478" width="9.5" height="5"/><rect x="697" y="484" width="5.5" height="4"/><rect x="704.5" y="484" width="16.5" height="4"/><rect x="730.5" y="484" width="14.2" height="4"/><rect x="754.5" y="484" width="2.0" height="4"/><rect x="767.5" y="484" width="9.5" height="4"/><rect x="697" y="489" width="5.5" height="5"/><rect x="704.5" y="489" width="16.5" height="5"/><rect x="730.5" y="489" width="14.2" height="5"/><rect x="754.5" y="489" width="2.0" height="5"/><rect x="767.5" y="489" width="9.5" height="5"/><rect x="698.5" y="495" width="3.0" height="4"/><rect x="704.5" y="495" width="24.2" height="4"/><rect x="730.5" y="495" width="17.5" height="4"/><rect x="754.5" y="495" width="2.0" height="4"/><rect x="698.5" y="500" width="3.0" height="5"/><rect x="704.5" y="500" width="24.2" height="5"/><rect x="730.5" y="500" width="17.5" height="5"/><rect x="754.5" y="500" width="2.0" height="5"/><rect x="698.5" y="506" width="3.0" height="5"/><rect x="704.5" y="506" width="24.2" height="5"/><rect x="730.5" y="506" width="10.5" height="5"/><rect x="754.5" y="506" width="2.0" height="5"/><rect x="698.5" y="512" width="3.0" height="4"/><rect x="704.5" y="512" width="16.5" height="4"/><rect x="730.5" y="512" width="10.5" height="4"/><rect x="754.5" y="512" width="2.0" height="4"/><rect x="770" y="512" width="4" height="4"/><rect x="698.5" y="517" width="3.0" height="5"/><rect x="704.5" y="517" width="16.5" height="5"/><rect x="730.5" y="517" width="7.1" height="5"/><rect x="754.5" y="517" width="2.0" height="5"/><rect x="770" y="517" width="4" height="5"/><rect x="698.5" y="523" width="3.0" height="4"/><rect x="704.5" y="523" width="16.5" height="4"/><rect x="730.5" y="523" width="10.5" height="4"/><rect x="754.5" y="523" width="2.0" height="4"/><rect x="770" y="523" width="4" height="4"/><rect x="794.5" y="523" width="17.5" height="4"/><rect x="698.5" y="528" width="3.0" height="5"/><rect x="704.5" y="528" width="16.5" height="5"/><rect x="730.5" y="528" width="7.1" height="5"/><rect x="754.5" y="528" width="2.0" height="5"/><rect x="767.5" y="528" width="9.5" height="5"/><rect x="698.5" y="534" width="3.0" height="4"/><rect x="704.5" y="534" width="16.5" height="4"/><rect x="730.5" y="534" width="7.1" height="4"/><rect x="754.5" y="534" width="2.0" height="4"/><rect x="698.5" y="539" width="3.0" height="5"/><rect x="704.5" y="539" width="16.5" height="5"/><rect x="730.5" y="539" width="7.1" height="5"/><rect x="754.5" y="539" width="2.0" height="5"/></g>
<line x1="695.5" y1="215.5" x2="821.5" y2="215.5" stroke="#00ffff" stroke-width="1"/>
<line x1="695.5" y1="221.5" x2="821.5" y2="221.5" stroke="#00ffff" stroke-width="1"/>
<line x1="695.5" y1="226.5" x2="821.5" y2="226.5" stroke="#00ffff" stroke-width="1"/>
<line x1="695.5" y1="232.5" x2="821.5" y2="232.5" stroke="#00ffff" stroke-width="1"/>
<line x1="695.5" y1="237.5" x2="821.5" y2="237.5" stroke="#00ffff" stroke-width="1"/>
<line x1="695.5" y1="243.5" x2="821.5" y2="243.5" stroke="#00ffff" stroke-width="1"/>
<line x1="695.5" y1="249.5" x2="821.5" y2="249.5" stroke="#00ffff" stroke-width="1"/>
<line x1="695.5" y1="254.5" x2="821.5" y2="254.5" stroke="#00ffff" stroke-width="1"/>
<line x1="695.5" y1="260.5" x2="821.5" y2="260.5" stroke="#00ffff" stroke-width="1"/>
<line x1="695.5" y1="265.5" x2="821.5" y2="265.5" stroke="#00ffff" stroke-width="1"/>
<line x1="695.5" y1="271.5" x2="821.5" y2="271.5" stroke="#00ffff" stroke-width="1"/>
<line x1="695.5" y1="276.5" x2="821.5" y2="276.5" stroke="#00ffff" stroke-width="1"/>
<line x1="695.5" y1="282.5" x2="821.5" y2="282.5" stroke="#00ffff" stroke-width="1"/>
<line x1="695.5" y1="288.5" x2="821.5" y2="288.5" stroke="#00ffff" stroke-width="1"/>
<line x1="695.5" y1="293.5" x2="821.5" y2="293.5" stroke="#00ffff" stroke-width="1"/>
<line x1="695.5" y1="299.5" x2="821.5" y2="299.5" stroke="#00ffff" stroke-width="1"/>
<line x1="695.5" y1="304.5" x2="821.5" y2="304.5" stroke="#00ffff" stroke-width="1"/>
<line x1="695.5" y1="310.5" x2="821.5" y2="310.5" stroke="#00ffff" stroke-width="1"/>
<line x1="695.5" y1="315.5" x2="821.5" y2="315.5" stroke="#00ffff" stroke-width="1"/>
<line x1="695.5" y1="321.5" x2="821.5" y2="321.5" stroke="#00ffff" stroke-width="1"/>
<line x1="695.5" y1="327.5" x2="821.5" y2="327.5" stroke="#00ffff" stroke-width="1"/>
<line x1="695.5" y1="332.5" x2="821.5" y2="332.5" stroke="#00ffff" stroke-width="1"/>
<line x1="695.5" y1="338.5" x2="821.5" y2="338.5" stroke="#00ffff" stroke-width="1"/>
<line x1="695.5" y1="343.5" x2="821.5" y2="343.5" stroke="#00ffff" stroke-width="1"/>
<line x1="695.5" y1="349.5" x2="821.5" y2="349.5" stroke="#00ffff" stroke-width="1"/>
<line x1="695.5" y1="354.5" x2="821.5" y2="354.5" stroke="#00ffff" stroke-width="1"/>
<line x1="695.5" y1="360.5" x2="821.5" y2="360.5" stroke="#00ffff" stroke-width="1"/>
<line x1="695.5" y1="366.5" x2="821.5" y2="366.5" stroke="#00ffff" stroke-width="1"/>
<line x1="695.5" y1="371.5" x2="821.5" y2="371.5" stroke="#00ffff" stroke-width="1"/>
<line x1="695.5" y1="377.5" x2="821.5" y2="377.5" stroke="#00ffff" stroke-width="1"/>
<line x1="695.5" y1="382.5" x2="821.5" y2="382.5" stroke="#00ffff" stroke-width="1"/>
<line x1="695.5" y1="388.5" x2="821.5" y2="388.5" stroke="#00ffff" stroke-width="1"/>
<line x1="695.5" y1="393.5" x2="821.5" y2="393.5" stroke="#00ffff" stroke-width="1"/>
<line x1="695.5" y1="399.5" x2="821.5" y2="399.5" stroke="#00ffff" stroke-width="1"/>
<line x1="695.5" y1="405.5" x2="821.5" y2="405.5" stroke="#00ffff" stroke-width="1"/>
<line x1="695.5" y1="410.5" x2="821.5" y2="410.5" stroke="#00ffff" stroke-width="1"/>
<line x1="695.5" y1="416.5" x2="821.5" y2="416.5" stroke="#00ffff" stroke-width="1"/>
<line x1="695.5" y1="421.5" x2="821.5" y2="421.5" stroke="#00ffff" stroke-width="1"/>
<line x1="695.5" y1="427.5" x2="821.5" y2="427.5" stroke="#00ffff" stroke-width="1"/>
<line x1="695.5" y1="433.5" x2="821.5" y2="433.5" stroke="#00ffff" stroke-width="1"/>
<line x1="695.5" y1="438.5" x2="821.5" y2="438.5" stroke="#00ffff" stroke-width="1"/>
<line x1="695.5" y1="444.5" x2="821.5" y2="444.5" stroke="#00ffff" stroke-width="1"/>
<line x1="695.5" y1="449.5" x2="821.5" y2="449.5" stroke="#00ffff" stroke-width="1"/>
<line x1="695.5" y1="455.5" x2="821.5" y2="455.5" stroke="#00ffff" stroke-width="1"/>
<line x1="695.5" y1="460.5" x2="821.5" y2="460.5" stroke="#00ffff" stroke-width="1"/>
<line x1="695.5" y1="466.5" x2="821.5" y2="466.5" stroke="#00ffff" stroke-width="1"/>
<line x1="695.5" y1="472.5" x2="821.5" y2="472.5" stroke="#00ffff" stroke-width="1"/>
<line x1="695.5" y1="477.5" x2="821.5" y2="477.5" stroke="#00ffff" stroke-width="1"/>
<line x1="695.5" y1="483.5" x2="821.5" y2="483.5" stroke="#00ffff" stroke-width="1"/>
<line x1="695.5" y1="488.5" x2="821.5" y2="488.5" stroke="#00ffff" stroke-width="1"/>
<line x1="695.5" y1="494.5" x2="821.5" y2="494.5" stroke="#00ffff" stroke-width="1"/>
<line x1="695.5" y1="499.5" x2="821.5" y2="499.5" stroke="#00ffff" stroke-width="1"/>
<line x1="695.5" y1="505.5" x2="821.5" y2="505.5" stroke="#00ffff" stroke-width="1"/>
<line x1="695.5" y1="511.5" x2="821.5" y2="511.5" stroke="#00ffff" stroke-width="1"/>
<line x1="695.5" y1="516.5" x2="821.5" y2="516.5" stroke="#00ffff" stroke-width="1"/>
<line x1="695.5" y1="522.5" x2="821.5" y2="522.5" stroke="#00ffff" stroke-width="1"/>
<line x1="695.5" y1="527.5" x2="821.5" y2="527.5" stroke="#00ffff" stroke-width="1"/>
<line x1="695.5" y1="533.5" x2="821.5" y2="533.5" stroke="#00ffff" stroke-width="1"/>
<line x1="695.5" y1="538.5" x2="821.5" y2="538.5" stroke="#00ffff" stroke-width="1"/>
<line x1="695.5" y1="210.5" x2="821.5" y2="210.5" stroke="#ffffff" stroke-width="1"/>
<line x1="695.5" y1="210.5" x2="695.5" y2="576.5" stroke="#ffffff" stroke-width="1"/>
<line x1="703.5" y1="210.5" x2="703.5" y2="555.5" stroke="#ffffff" stroke-width="1"/>
<line x1="729.5" y1="210.5" x2="729.5" y2="555.5" stroke="#ffffff" stroke-width="1"/>
<line x1="752.5" y1="210.5" x2="752.5" y2="555.5" stroke="#ffffff" stroke-width="1"/>
<line x1="758.5" y1="210.5" x2="758.5" y2="555.5" stroke="#ffffff" stroke-width="1"/>
<line x1="784.5" y1="210.5" x2="784.5" y2="555.5" stroke="#ffffff" stroke-width="1"/>
<line x1="821.5" y1="210.5" x2="821.5" y2="576.5" stroke="#ffffff" stroke-width="1"/>
<line x1="695.5" y1="544.5" x2="821.5" y2="544.5" stroke="#ffffff" stroke-width="1"/>
<line x1="695.5" y1="555.5" x2="821.5" y2="555.5" stroke="#ffffff" stroke-width="1"/>
<line x1="695.5" y1="561.5" x2="744.5" y2="561.5" stroke="#ffffff" stroke-width="1"/>
<line x1="695.5" y1="566.5" x2="744.5" y2="566.5" stroke="#ffffff" stroke-width="1"/>
<line x1="695.5" y1="571.5" x2="744.5" y2="571.5" stroke="#ffffff" stroke-width="1"/>
<line x1="744.5" y1="563.5" x2="821.5" y2="563.5" stroke="#ffffff" stroke-width="1"/>
<line x1="744.5" y1="570.5" x2="821.5" y2="570.5" stroke="#ffffff" stroke-width="1"/>
<line x1="695.5" y1="555.5" x2="695.5" y2="576.5" stroke="#ffffff" stroke-width="1"/>
<line x1="706.5" y1="555.5" x2="706.5" y2="576.5" stroke="#ffffff" stroke-width="1"/>
<line x1="730.5" y1="555.5" x2="730.5" y2="576.5" stroke="#ffffff" stroke-width="1"/>
<line x1="744.5" y1="555.5" x2="744.5" y2="576.5" stroke="#ffffff" stroke-width="1"/>
<line x1="779.5" y1="555.5" x2="779.5" y2="576.5" stroke="#ffffff" stroke-width="1"/>
<line x1="821.5" y1="555.5" x2="821.5" y2="576.5" stroke="#ffffff" stroke-width="1"/>
<line x1="746.5" y1="563.5" x2="746.5" y2="570.5" stroke="#ffffff" stroke-width="1"/>
<line x1="756.5" y1="563.5" x2="756.5" y2="570.5" stroke="#ffffff" stroke-width="1"/>
<line x1="695.5" y1="576.5" x2="821.5" y2="576.5" stroke="#ffffff" stroke-width="1"/>
<g fill="#fff" opacity="0.85"><rect x="697" y="545" width="5" height="4"/><rect x="697" y="550" width="5" height="4"/><rect x="707" y="549" width="3" height="4"/><rect x="733" y="549" width="3" height="4"/><rect x="754" y="545" width="4" height="4"/><rect x="754" y="550" width="4" height="4"/><rect x="762" y="549" width="4" height="4"/><rect x="784" y="549" width="3" height="4"/><rect x="798" y="549" width="3" height="4"/><rect x="787" y="556" width="4" height="3"/><rect x="697" y="557" width="7" height="3"/><rect x="707" y="557" width="3" height="3"/><rect x="731" y="557" width="3" height="3"/><rect x="697" y="562" width="7" height="3"/><rect x="697" y="567" width="7" height="3"/><rect x="697" y="572" width="7" height="3"/><rect x="722" y="572" width="9" height="3"/><rect x="747" y="564" width="8" height="5"/><rect x="763" y="565" width="7" height="4"/><rect x="810" y="565" width="11" height="5"/><rect x="808" y="572" width="12" height="3"/><rect x="745" y="572" width="4" height="3"/><rect x="764" y="572" width="4" height="4"/><rect x="773" y="572" width="3" height="3"/><rect x="746" y="577" width="4" height="5"/><rect x="765" y="577" width="4" height="5"/></g>
</svg></body></html>
